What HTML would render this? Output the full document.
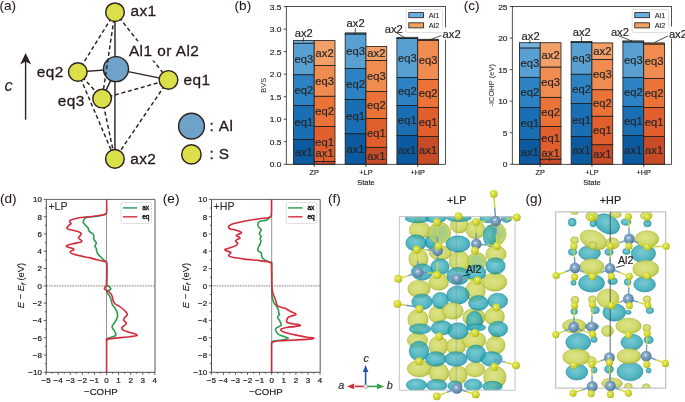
<!DOCTYPE html>
<html><head><meta charset="utf-8"><style>
html,body{margin:0;padding:0;background:#fff;}
svg{display:block;will-change:transform;}
text{font-family:"Liberation Sans",sans-serif;}
</style></head><body>
<svg width="685" height="402" viewBox="0 0 685 402">
<defs>
<radialGradient id="gy" cx="0.45" cy="0.42" r="0.6">
 <stop offset="0" stop-color="#d9e180"/><stop offset="0.65" stop-color="#cdd660"/><stop offset="0.9" stop-color="#bac442"/><stop offset="1" stop-color="#9eaa2e"/>
</radialGradient>
<radialGradient id="gc" cx="0.45" cy="0.42" r="0.6">
 <stop offset="0" stop-color="#58bcc6"/><stop offset="0.6" stop-color="#2ea8b6"/><stop offset="0.9" stop-color="#1896a6"/><stop offset="1" stop-color="#0e8292"/>
</radialGradient>
<radialGradient id="gg" cx="0.5" cy="0.5" r="0.55">
 <stop offset="0" stop-color="#9cc886"/><stop offset="0.55" stop-color="#a8cc78"/><stop offset="0.85" stop-color="#c6d05a"/><stop offset="1" stop-color="#a8b436"/>
</radialGradient>
<radialGradient id="gs" cx="0.4" cy="0.38" r="0.65">
 <stop offset="0" stop-color="#f6f8c8"/><stop offset="0.25" stop-color="#dde24a"/><stop offset="0.8" stop-color="#c8ce24"/><stop offset="1" stop-color="#9aa014"/>
</radialGradient>
<radialGradient id="ga" cx="0.42" cy="0.4" r="0.65">
 <stop offset="0" stop-color="#f4f8fc"/><stop offset="0.22" stop-color="#8fb0cc"/><stop offset="0.75" stop-color="#6088aa"/><stop offset="1" stop-color="#466a88"/>
</radialGradient>
<clipPath id="cf"><rect x="399.3" y="216.6" width="115.8" height="173.6"/></clipPath>
<clipPath id="cg"><rect x="555.7" y="211.9" width="110" height="176.2"/></clipPath>
</defs>
<rect width="685" height="402" fill="#fff"/>
<text x="-0.60" y="10.20" font-size="13.6" fill="#231815" text-anchor="start" stroke="#231815" stroke-width="0.05" >(a)</text>
<text x="234.60" y="10.20" font-size="13.6" fill="#231815" text-anchor="start" stroke="#231815" stroke-width="0.05" >(b)</text>
<text x="463.80" y="10.20" font-size="13.6" fill="#231815" text-anchor="start" stroke="#231815" stroke-width="0.05" >(c)</text>
<text x="-0.10" y="203.00" font-size="13.6" fill="#231815" text-anchor="start" stroke="#231815" stroke-width="0.05" >(d)</text>
<text x="162.80" y="203.00" font-size="13.6" fill="#231815" text-anchor="start" stroke="#231815" stroke-width="0.05" >(e)</text>
<text x="327.90" y="203.00" font-size="13.6" fill="#231815" text-anchor="start" stroke="#231815" stroke-width="0.05" >(f)</text>
<text x="525.40" y="203.00" font-size="13.6" fill="#231815" text-anchor="start" stroke="#231815" stroke-width="0.05" >(g)</text>
<line x1="115.00" y1="12.20" x2="77.80" y2="72.00" stroke="#2e2220" stroke-width="1.45" stroke-dasharray="4,2.7"/>
<line x1="115.00" y1="12.20" x2="168.50" y2="79.90" stroke="#2e2220" stroke-width="1.45" stroke-dasharray="4,2.7"/>
<line x1="77.80" y1="72.00" x2="102.10" y2="98.60" stroke="#2e2220" stroke-width="1.45" stroke-dasharray="4,2.7"/>
<line x1="102.10" y1="98.60" x2="168.50" y2="79.90" stroke="#2e2220" stroke-width="1.45" stroke-dasharray="4,2.7"/>
<line x1="77.80" y1="72.00" x2="114.90" y2="158.90" stroke="#2e2220" stroke-width="1.45" stroke-dasharray="4,2.7"/>
<line x1="102.10" y1="98.60" x2="114.90" y2="158.90" stroke="#2e2220" stroke-width="1.45" stroke-dasharray="4,2.7"/>
<line x1="168.50" y1="79.90" x2="114.90" y2="158.90" stroke="#2e2220" stroke-width="1.45" stroke-dasharray="4,2.7"/>
<line x1="115.00" y1="12.20" x2="114.90" y2="158.90" stroke="#2e2220" stroke-width="1.4"/>
<line x1="77.80" y1="72.00" x2="116.00" y2="69.10" stroke="#2e2220" stroke-width="1.4"/>
<line x1="116.00" y1="69.10" x2="168.50" y2="79.90" stroke="#2e2220" stroke-width="1.4"/>
<line x1="116.00" y1="69.10" x2="102.10" y2="98.60" stroke="#2e2220" stroke-width="1.4"/>
<circle cx="116.00" cy="69.10" r="12.5" fill="#6ea2c8" stroke="#2e2220" stroke-width="1.45"/>
<line x1="115.00" y1="12.20" x2="102.10" y2="98.60" stroke="#2e2220" stroke-width="1.45" stroke-dasharray="4,2.7"/>
<rect x="128.5" y="41.5" width="72" height="19" fill="#fff"/>
<circle cx="115.00" cy="12.20" r="9.3" fill="#d9e04a" stroke="#2e2220" stroke-width="1.45"/>
<circle cx="114.90" cy="158.90" r="9.3" fill="#d9e04a" stroke="#2e2220" stroke-width="1.45"/>
<circle cx="168.50" cy="79.90" r="9.3" fill="#d9e04a" stroke="#2e2220" stroke-width="1.45"/>
<circle cx="77.80" cy="72.00" r="9.3" fill="#d9e04a" stroke="#2e2220" stroke-width="1.45"/>
<circle cx="102.10" cy="98.60" r="9.3" fill="#d9e04a" stroke="#2e2220" stroke-width="1.45"/>
<text x="130.40" y="15.90" font-size="15.4" fill="#231815" text-anchor="start" stroke="#231815" stroke-width="0.28" letter-spacing="0.45">ax1</text>
<text x="128.90" y="56.10" font-size="15.4" fill="#231815" text-anchor="start" stroke="#231815" stroke-width="0.28" letter-spacing="0.45">Al1 or Al2</text>
<text x="36.80" y="77.00" font-size="15.4" fill="#231815" text-anchor="start" stroke="#231815" stroke-width="0.28" letter-spacing="0.45">eq2</text>
<text x="183.50" y="84.60" font-size="15.4" fill="#231815" text-anchor="start" stroke="#231815" stroke-width="0.28" letter-spacing="0.45">eq1</text>
<text x="57.80" y="105.90" font-size="15.4" fill="#231815" text-anchor="start" stroke="#231815" stroke-width="0.28" letter-spacing="0.45">eq3</text>
<text x="130.20" y="163.70" font-size="15.4" fill="#231815" text-anchor="start" stroke="#231815" stroke-width="0.28" letter-spacing="0.45">ax2</text>
<line x1="25.6" y1="119.7" x2="25.6" y2="60" stroke="#2e2220" stroke-width="1.4"/>
<path d="M25.6,53 L31.2,64.5 L25.6,61.5 L20.2,64.5 Z" fill="#2e2220"/>
<text x="4.60" y="90.80" font-size="16.5" fill="#231815" text-anchor="start" font-style="italic">c</text>
<circle cx="191.50" cy="126.20" r="12.9" fill="#6ea2c8" stroke="#2e2220" stroke-width="1.45"/>
<circle cx="191.40" cy="154.40" r="9.7" fill="#d9e04a" stroke="#2e2220" stroke-width="1.45"/>
<text x="209.60" y="130.60" font-size="15.4" fill="#231815" text-anchor="start" stroke="#231815" stroke-width="0.28" >:</text>
<text x="218.80" y="130.60" font-size="15.4" fill="#231815" text-anchor="start" stroke="#231815" stroke-width="0.28" letter-spacing="0.45">Al</text>
<text x="209.60" y="159.00" font-size="15.4" fill="#231815" text-anchor="start" stroke="#231815" stroke-width="0.28" >:</text>
<text x="218.80" y="159.00" font-size="15.4" fill="#231815" text-anchor="start" stroke="#231815" stroke-width="0.28" letter-spacing="0.45">S</text>
<rect x="293.40" y="139.40" width="20.80" height="24.90" fill="#0c5aa0" stroke="#1a1a1a" stroke-width="0.8"/>
<rect x="293.40" y="105.40" width="20.80" height="34.00" fill="#196eb4" stroke="#1a1a1a" stroke-width="0.8"/>
<rect x="293.40" y="74.70" width="20.80" height="30.70" fill="#2d82c3" stroke="#1a1a1a" stroke-width="0.8"/>
<rect x="293.40" y="43.20" width="20.80" height="31.50" fill="#58a0d2" stroke="#1a1a1a" stroke-width="0.8"/>
<rect x="293.40" y="40.60" width="20.80" height="2.60" fill="#76b4e0" stroke="#1a1a1a" stroke-width="0.8"/>
<rect x="314.20" y="161.40" width="20.80" height="2.90" fill="#c84b28" stroke="#1a1a1a" stroke-width="0.8"/>
<rect x="314.20" y="126.50" width="20.80" height="34.90" fill="#e15f2d" stroke="#1a1a1a" stroke-width="0.8"/>
<rect x="314.20" y="96.20" width="20.80" height="30.30" fill="#eb7337" stroke="#1a1a1a" stroke-width="0.8"/>
<rect x="314.20" y="65.40" width="20.80" height="30.80" fill="#f08c50" stroke="#1a1a1a" stroke-width="0.8"/>
<rect x="314.20" y="40.60" width="20.80" height="24.80" fill="#f2a068" stroke="#1a1a1a" stroke-width="0.8"/>
<rect x="345.15" y="133.70" width="20.80" height="30.60" fill="#0c5aa0" stroke="#1a1a1a" stroke-width="0.8"/>
<rect x="345.15" y="99.40" width="20.80" height="34.30" fill="#196eb4" stroke="#1a1a1a" stroke-width="0.8"/>
<rect x="345.15" y="68.40" width="20.80" height="31.00" fill="#2d82c3" stroke="#1a1a1a" stroke-width="0.8"/>
<rect x="345.15" y="34.00" width="20.80" height="34.40" fill="#58a0d2" stroke="#1a1a1a" stroke-width="0.8"/>
<rect x="345.15" y="32.90" width="20.80" height="1.10" fill="#76b4e0" stroke="#1a1a1a" stroke-width="0.8"/>
<rect x="365.95" y="147.30" width="20.80" height="17.00" fill="#c84b28" stroke="#1a1a1a" stroke-width="0.8"/>
<rect x="365.95" y="118.40" width="20.80" height="28.90" fill="#e15f2d" stroke="#1a1a1a" stroke-width="0.8"/>
<rect x="365.95" y="91.60" width="20.80" height="26.80" fill="#eb7337" stroke="#1a1a1a" stroke-width="0.8"/>
<rect x="365.95" y="60.40" width="20.80" height="31.20" fill="#f08c50" stroke="#1a1a1a" stroke-width="0.8"/>
<rect x="365.95" y="46.50" width="20.80" height="13.90" fill="#f2a068" stroke="#1a1a1a" stroke-width="0.8"/>
<rect x="396.90" y="135.60" width="20.80" height="28.70" fill="#0c5aa0" stroke="#1a1a1a" stroke-width="0.8"/>
<rect x="396.90" y="105.50" width="20.80" height="30.10" fill="#196eb4" stroke="#1a1a1a" stroke-width="0.8"/>
<rect x="396.90" y="77.40" width="20.80" height="28.10" fill="#2d82c3" stroke="#1a1a1a" stroke-width="0.8"/>
<rect x="396.90" y="38.40" width="20.80" height="39.00" fill="#58a0d2" stroke="#1a1a1a" stroke-width="0.8"/>
<rect x="396.90" y="37.30" width="20.80" height="1.10" fill="#76b4e0" stroke="#1a1a1a" stroke-width="0.8"/>
<rect x="417.70" y="136.60" width="20.80" height="27.70" fill="#c84b28" stroke="#1a1a1a" stroke-width="0.8"/>
<rect x="417.70" y="107.50" width="20.80" height="29.10" fill="#e15f2d" stroke="#1a1a1a" stroke-width="0.8"/>
<rect x="417.70" y="79.40" width="20.80" height="28.10" fill="#eb7337" stroke="#1a1a1a" stroke-width="0.8"/>
<rect x="417.70" y="40.30" width="20.80" height="39.10" fill="#f08c50" stroke="#1a1a1a" stroke-width="0.8"/>
<rect x="417.70" y="39.30" width="20.80" height="1.00" fill="#f2a068" stroke="#1a1a1a" stroke-width="0.8"/>
<text x="303.80" y="155.75" font-size="11.2" fill="#262626" text-anchor="middle" stroke="#262626" stroke-width="0.18" >ax1</text>
<text x="303.80" y="126.30" font-size="11.2" fill="#262626" text-anchor="middle" stroke="#262626" stroke-width="0.18" >eq1</text>
<text x="303.80" y="93.95" font-size="11.2" fill="#262626" text-anchor="middle" stroke="#262626" stroke-width="0.18" >eq2</text>
<text x="303.80" y="62.85" font-size="11.2" fill="#262626" text-anchor="middle" stroke="#262626" stroke-width="0.18" >eq3</text>
<text x="303.70" y="37.00" font-size="11.2" fill="#262626" text-anchor="middle" stroke="#262626" stroke-width="0.18" >ax2</text>
<text x="324.60" y="157.30" font-size="11.2" fill="#262626" text-anchor="middle" stroke="#262626" stroke-width="0.18" >ax1</text>
<text x="324.60" y="146.00" font-size="11.2" fill="#262626" text-anchor="middle" stroke="#262626" stroke-width="0.18" >eq1</text>
<text x="324.60" y="115.25" font-size="11.2" fill="#262626" text-anchor="middle" stroke="#262626" stroke-width="0.18" >eq2</text>
<text x="324.60" y="84.70" font-size="11.2" fill="#262626" text-anchor="middle" stroke="#262626" stroke-width="0.18" >eq3</text>
<text x="324.60" y="56.90" font-size="11.2" fill="#262626" text-anchor="middle" stroke="#262626" stroke-width="0.18" >ax2</text>
<text x="355.55" y="152.90" font-size="11.2" fill="#262626" text-anchor="middle" stroke="#262626" stroke-width="0.18" >ax1</text>
<text x="355.55" y="120.45" font-size="11.2" fill="#262626" text-anchor="middle" stroke="#262626" stroke-width="0.18" >eq1</text>
<text x="355.55" y="87.80" font-size="11.2" fill="#262626" text-anchor="middle" stroke="#262626" stroke-width="0.18" >eq2</text>
<text x="355.55" y="55.10" font-size="11.2" fill="#262626" text-anchor="middle" stroke="#262626" stroke-width="0.18" >eq3</text>
<text x="355.60" y="27.40" font-size="11.2" fill="#262626" text-anchor="middle" stroke="#262626" stroke-width="0.18" >ax2</text>
<text x="376.35" y="159.70" font-size="11.2" fill="#262626" text-anchor="middle" stroke="#262626" stroke-width="0.18" >ax1</text>
<text x="376.35" y="136.75" font-size="11.2" fill="#262626" text-anchor="middle" stroke="#262626" stroke-width="0.18" >eq1</text>
<text x="376.35" y="108.90" font-size="11.2" fill="#262626" text-anchor="middle" stroke="#262626" stroke-width="0.18" >eq2</text>
<text x="376.35" y="79.90" font-size="11.2" fill="#262626" text-anchor="middle" stroke="#262626" stroke-width="0.18" >eq3</text>
<text x="376.35" y="57.35" font-size="11.2" fill="#262626" text-anchor="middle" stroke="#262626" stroke-width="0.18" >ax2</text>
<text x="407.30" y="153.85" font-size="11.2" fill="#262626" text-anchor="middle" stroke="#262626" stroke-width="0.18" >ax1</text>
<text x="407.30" y="124.45" font-size="11.2" fill="#262626" text-anchor="middle" stroke="#262626" stroke-width="0.18" >eq1</text>
<text x="407.30" y="95.35" font-size="11.2" fill="#262626" text-anchor="middle" stroke="#262626" stroke-width="0.18" >eq2</text>
<text x="407.30" y="61.80" font-size="11.2" fill="#262626" text-anchor="middle" stroke="#262626" stroke-width="0.18" >eq3</text>
<text x="428.10" y="154.35" font-size="11.2" fill="#262626" text-anchor="middle" stroke="#262626" stroke-width="0.18" >ax1</text>
<text x="428.10" y="125.95" font-size="11.2" fill="#262626" text-anchor="middle" stroke="#262626" stroke-width="0.18" >eq1</text>
<text x="428.10" y="97.35" font-size="11.2" fill="#262626" text-anchor="middle" stroke="#262626" stroke-width="0.18" >eq2</text>
<text x="428.10" y="63.75" font-size="11.2" fill="#262626" text-anchor="middle" stroke="#262626" stroke-width="0.18" >eq3</text>
<rect x="286.3" y="6.5" width="159.30" height="157.80" fill="none" stroke="#262626" stroke-width="0.8"/>
<line x1="283.70" y1="164.30" x2="286.3" y2="164.30" stroke="#262626" stroke-width="0.8"/>
<text transform="translate(281.50,167.30) scale(1.12,1)" font-size="7.5" fill="#1e1e1e" stroke="#1e1e1e" stroke-width="0.15" text-anchor="end">0.0</text>
<line x1="283.70" y1="141.77" x2="286.3" y2="141.77" stroke="#262626" stroke-width="0.8"/>
<text transform="translate(281.50,144.77) scale(1.12,1)" font-size="7.5" fill="#1e1e1e" stroke="#1e1e1e" stroke-width="0.15" text-anchor="end">0.5</text>
<line x1="283.70" y1="119.24" x2="286.3" y2="119.24" stroke="#262626" stroke-width="0.8"/>
<text transform="translate(281.50,122.24) scale(1.12,1)" font-size="7.5" fill="#1e1e1e" stroke="#1e1e1e" stroke-width="0.15" text-anchor="end">1.0</text>
<line x1="283.70" y1="96.71" x2="286.3" y2="96.71" stroke="#262626" stroke-width="0.8"/>
<text transform="translate(281.50,99.71) scale(1.12,1)" font-size="7.5" fill="#1e1e1e" stroke="#1e1e1e" stroke-width="0.15" text-anchor="end">1.5</text>
<line x1="283.70" y1="74.18" x2="286.3" y2="74.18" stroke="#262626" stroke-width="0.8"/>
<text transform="translate(281.50,77.18) scale(1.12,1)" font-size="7.5" fill="#1e1e1e" stroke="#1e1e1e" stroke-width="0.15" text-anchor="end">2.0</text>
<line x1="283.70" y1="51.65" x2="286.3" y2="51.65" stroke="#262626" stroke-width="0.8"/>
<text transform="translate(281.50,54.65) scale(1.12,1)" font-size="7.5" fill="#1e1e1e" stroke="#1e1e1e" stroke-width="0.15" text-anchor="end">2.5</text>
<line x1="283.70" y1="29.12" x2="286.3" y2="29.12" stroke="#262626" stroke-width="0.8"/>
<text transform="translate(281.50,32.12) scale(1.12,1)" font-size="7.5" fill="#1e1e1e" stroke="#1e1e1e" stroke-width="0.15" text-anchor="end">3.0</text>
<line x1="283.70" y1="6.59" x2="286.3" y2="6.59" stroke="#262626" stroke-width="0.8"/>
<text transform="translate(281.50,9.59) scale(1.12,1)" font-size="7.5" fill="#1e1e1e" stroke="#1e1e1e" stroke-width="0.15" text-anchor="end">3.5</text>
<line x1="314.20" y1="164.3" x2="314.20" y2="166.90" stroke="#262626" stroke-width="0.8"/>
<text x="314.20" y="175.10" font-size="7.3" fill="#1e1e1e" text-anchor="middle" stroke="#1e1e1e" stroke-width="0.15" >ZP</text>
<line x1="365.95" y1="164.3" x2="365.95" y2="166.90" stroke="#262626" stroke-width="0.8"/>
<text x="365.95" y="175.10" font-size="7.3" fill="#1e1e1e" text-anchor="middle" stroke="#1e1e1e" stroke-width="0.15" >+LP</text>
<line x1="417.70" y1="164.3" x2="417.70" y2="166.90" stroke="#262626" stroke-width="0.8"/>
<text x="417.70" y="175.10" font-size="7.3" fill="#1e1e1e" text-anchor="middle" stroke="#1e1e1e" stroke-width="0.15" >+HP</text>
<text x="366.00" y="184.80" font-size="7.5" fill="#1e1e1e" text-anchor="middle" stroke="#1e1e1e" stroke-width="0.15" >State</text>
<text x="0" y="0" font-size="7.5" fill="#262626" text-anchor="middle" transform="translate(266.20,85.3) rotate(-90)">BVS</text>
<rect x="406.20" y="9.5" width="36.3" height="23" rx="1.5" fill="#fff" fill-opacity="0.85" stroke="#d8d8d8" stroke-width="0.8"/>
<rect x="408.80" y="12.6" width="14.8" height="5.1" fill="#6aaedc" stroke="#1a1a1a" stroke-width="0.8"/>
<rect x="408.80" y="22.8" width="14.8" height="5.1" fill="#f0a060" stroke="#1a1a1a" stroke-width="0.8"/>
<text x="428.70" y="17.80" font-size="7.3" fill="#262626" text-anchor="start" stroke="#262626" stroke-width="0.1" >Al1</text>
<text x="428.70" y="28.00" font-size="7.3" fill="#262626" text-anchor="start" stroke="#262626" stroke-width="0.1" >Al2</text>
<rect x="519.40" y="139.50" width="20.80" height="24.80" fill="#0c5aa0" stroke="#1a1a1a" stroke-width="0.8"/>
<rect x="519.40" y="107.40" width="20.80" height="32.10" fill="#196eb4" stroke="#1a1a1a" stroke-width="0.8"/>
<rect x="519.40" y="77.30" width="20.80" height="30.10" fill="#2d82c3" stroke="#1a1a1a" stroke-width="0.8"/>
<rect x="519.40" y="47.90" width="20.80" height="29.40" fill="#58a0d2" stroke="#1a1a1a" stroke-width="0.8"/>
<rect x="519.40" y="42.70" width="20.80" height="5.20" fill="#76b4e0" stroke="#1a1a1a" stroke-width="0.8"/>
<rect x="540.20" y="159.00" width="20.80" height="5.30" fill="#c84b28" stroke="#1a1a1a" stroke-width="0.8"/>
<rect x="540.20" y="126.50" width="20.80" height="32.50" fill="#e15f2d" stroke="#1a1a1a" stroke-width="0.8"/>
<rect x="540.20" y="97.30" width="20.80" height="29.20" fill="#eb7337" stroke="#1a1a1a" stroke-width="0.8"/>
<rect x="540.20" y="67.00" width="20.80" height="30.30" fill="#f08c50" stroke="#1a1a1a" stroke-width="0.8"/>
<rect x="540.20" y="42.70" width="20.80" height="24.30" fill="#f2a068" stroke="#1a1a1a" stroke-width="0.8"/>
<rect x="571.15" y="136.60" width="20.80" height="27.70" fill="#0c5aa0" stroke="#1a1a1a" stroke-width="0.8"/>
<rect x="571.15" y="103.60" width="20.80" height="33.00" fill="#196eb4" stroke="#1a1a1a" stroke-width="0.8"/>
<rect x="571.15" y="74.20" width="20.80" height="29.40" fill="#2d82c3" stroke="#1a1a1a" stroke-width="0.8"/>
<rect x="571.15" y="42.60" width="20.80" height="31.60" fill="#58a0d2" stroke="#1a1a1a" stroke-width="0.8"/>
<rect x="571.15" y="41.50" width="20.80" height="1.10" fill="#76b4e0" stroke="#1a1a1a" stroke-width="0.8"/>
<rect x="591.95" y="144.70" width="20.80" height="19.60" fill="#c84b28" stroke="#1a1a1a" stroke-width="0.8"/>
<rect x="591.95" y="116.20" width="20.80" height="28.50" fill="#e15f2d" stroke="#1a1a1a" stroke-width="0.8"/>
<rect x="591.95" y="89.70" width="20.80" height="26.50" fill="#eb7337" stroke="#1a1a1a" stroke-width="0.8"/>
<rect x="591.95" y="59.40" width="20.80" height="30.30" fill="#f08c50" stroke="#1a1a1a" stroke-width="0.8"/>
<rect x="591.95" y="42.90" width="20.80" height="16.50" fill="#f2a068" stroke="#1a1a1a" stroke-width="0.8"/>
<rect x="622.90" y="135.60" width="20.80" height="28.70" fill="#0c5aa0" stroke="#1a1a1a" stroke-width="0.8"/>
<rect x="622.90" y="106.50" width="20.80" height="29.10" fill="#196eb4" stroke="#1a1a1a" stroke-width="0.8"/>
<rect x="622.90" y="77.40" width="20.80" height="29.10" fill="#2d82c3" stroke="#1a1a1a" stroke-width="0.8"/>
<rect x="622.90" y="42.00" width="20.80" height="35.40" fill="#58a0d2" stroke="#1a1a1a" stroke-width="0.8"/>
<rect x="622.90" y="40.90" width="20.80" height="1.10" fill="#76b4e0" stroke="#1a1a1a" stroke-width="0.8"/>
<rect x="643.70" y="136.60" width="20.80" height="27.70" fill="#c84b28" stroke="#1a1a1a" stroke-width="0.8"/>
<rect x="643.70" y="107.50" width="20.80" height="29.10" fill="#e15f2d" stroke="#1a1a1a" stroke-width="0.8"/>
<rect x="643.70" y="78.40" width="20.80" height="29.10" fill="#eb7337" stroke="#1a1a1a" stroke-width="0.8"/>
<rect x="643.70" y="44.00" width="20.80" height="34.40" fill="#f08c50" stroke="#1a1a1a" stroke-width="0.8"/>
<rect x="643.70" y="42.90" width="20.80" height="1.10" fill="#f2a068" stroke="#1a1a1a" stroke-width="0.8"/>
<text x="529.80" y="155.80" font-size="11.2" fill="#262626" text-anchor="middle" stroke="#262626" stroke-width="0.18" >ax1</text>
<text x="529.80" y="127.35" font-size="11.2" fill="#262626" text-anchor="middle" stroke="#262626" stroke-width="0.18" >eq1</text>
<text x="529.80" y="96.25" font-size="11.2" fill="#262626" text-anchor="middle" stroke="#262626" stroke-width="0.18" >eq2</text>
<text x="529.80" y="66.50" font-size="11.2" fill="#262626" text-anchor="middle" stroke="#262626" stroke-width="0.18" >eq3</text>
<text x="530.60" y="39.90" font-size="11.2" fill="#262626" text-anchor="middle" stroke="#262626" stroke-width="0.18" >ax2</text>
<text x="550.60" y="156.60" font-size="11.2" fill="#262626" text-anchor="middle" stroke="#262626" stroke-width="0.18" >ax1</text>
<text x="550.60" y="141.80" font-size="11.2" fill="#262626" text-anchor="middle" stroke="#262626" stroke-width="0.18" >eq1</text>
<text x="550.60" y="115.80" font-size="11.2" fill="#262626" text-anchor="middle" stroke="#262626" stroke-width="0.18" >eq2</text>
<text x="550.60" y="86.05" font-size="11.2" fill="#262626" text-anchor="middle" stroke="#262626" stroke-width="0.18" >eq3</text>
<text x="550.60" y="58.75" font-size="11.2" fill="#262626" text-anchor="middle" stroke="#262626" stroke-width="0.18" >ax2</text>
<text x="581.55" y="154.35" font-size="11.2" fill="#262626" text-anchor="middle" stroke="#262626" stroke-width="0.18" >ax1</text>
<text x="581.55" y="124.00" font-size="11.2" fill="#262626" text-anchor="middle" stroke="#262626" stroke-width="0.18" >eq1</text>
<text x="581.55" y="92.80" font-size="11.2" fill="#262626" text-anchor="middle" stroke="#262626" stroke-width="0.18" >eq2</text>
<text x="581.55" y="62.30" font-size="11.2" fill="#262626" text-anchor="middle" stroke="#262626" stroke-width="0.18" >eq3</text>
<text x="581.80" y="36.30" font-size="11.2" fill="#262626" text-anchor="middle" stroke="#262626" stroke-width="0.18" >ax2</text>
<text x="602.35" y="158.40" font-size="11.2" fill="#262626" text-anchor="middle" stroke="#262626" stroke-width="0.18" >ax1</text>
<text x="602.35" y="134.35" font-size="11.2" fill="#262626" text-anchor="middle" stroke="#262626" stroke-width="0.18" >eq1</text>
<text x="602.35" y="106.85" font-size="11.2" fill="#262626" text-anchor="middle" stroke="#262626" stroke-width="0.18" >eq2</text>
<text x="602.35" y="78.45" font-size="11.2" fill="#262626" text-anchor="middle" stroke="#262626" stroke-width="0.18" >eq3</text>
<text x="602.35" y="55.05" font-size="11.2" fill="#262626" text-anchor="middle" stroke="#262626" stroke-width="0.18" >ax2</text>
<text x="633.30" y="153.85" font-size="11.2" fill="#262626" text-anchor="middle" stroke="#262626" stroke-width="0.18" >ax1</text>
<text x="633.30" y="124.95" font-size="11.2" fill="#262626" text-anchor="middle" stroke="#262626" stroke-width="0.18" >eq1</text>
<text x="633.30" y="95.85" font-size="11.2" fill="#262626" text-anchor="middle" stroke="#262626" stroke-width="0.18" >eq2</text>
<text x="633.30" y="63.60" font-size="11.2" fill="#262626" text-anchor="middle" stroke="#262626" stroke-width="0.18" >eq3</text>
<text x="654.10" y="154.35" font-size="11.2" fill="#262626" text-anchor="middle" stroke="#262626" stroke-width="0.18" >ax1</text>
<text x="654.10" y="125.95" font-size="11.2" fill="#262626" text-anchor="middle" stroke="#262626" stroke-width="0.18" >eq1</text>
<text x="654.10" y="96.85" font-size="11.2" fill="#262626" text-anchor="middle" stroke="#262626" stroke-width="0.18" >eq2</text>
<text x="654.10" y="65.10" font-size="11.2" fill="#262626" text-anchor="middle" stroke="#262626" stroke-width="0.18" >eq3</text>
<rect x="512.3" y="6.5" width="159.30" height="157.80" fill="none" stroke="#262626" stroke-width="0.8"/>
<line x1="509.70" y1="164.30" x2="512.3" y2="164.30" stroke="#262626" stroke-width="0.8"/>
<text transform="translate(507.50,167.30) scale(1.12,1)" font-size="7.5" fill="#1e1e1e" stroke="#1e1e1e" stroke-width="0.15" text-anchor="end">0</text>
<line x1="509.70" y1="132.74" x2="512.3" y2="132.74" stroke="#262626" stroke-width="0.8"/>
<text transform="translate(507.50,135.74) scale(1.12,1)" font-size="7.5" fill="#1e1e1e" stroke="#1e1e1e" stroke-width="0.15" text-anchor="end">5</text>
<line x1="509.70" y1="101.18" x2="512.3" y2="101.18" stroke="#262626" stroke-width="0.8"/>
<text transform="translate(507.50,104.18) scale(1.12,1)" font-size="7.5" fill="#1e1e1e" stroke="#1e1e1e" stroke-width="0.15" text-anchor="end">10</text>
<line x1="509.70" y1="69.62" x2="512.3" y2="69.62" stroke="#262626" stroke-width="0.8"/>
<text transform="translate(507.50,72.62) scale(1.12,1)" font-size="7.5" fill="#1e1e1e" stroke="#1e1e1e" stroke-width="0.15" text-anchor="end">15</text>
<line x1="509.70" y1="38.06" x2="512.3" y2="38.06" stroke="#262626" stroke-width="0.8"/>
<text transform="translate(507.50,41.06) scale(1.12,1)" font-size="7.5" fill="#1e1e1e" stroke="#1e1e1e" stroke-width="0.15" text-anchor="end">20</text>
<line x1="509.70" y1="6.50" x2="512.3" y2="6.50" stroke="#262626" stroke-width="0.8"/>
<text transform="translate(507.50,9.50) scale(1.12,1)" font-size="7.5" fill="#1e1e1e" stroke="#1e1e1e" stroke-width="0.15" text-anchor="end">25</text>
<line x1="540.20" y1="164.3" x2="540.20" y2="166.90" stroke="#262626" stroke-width="0.8"/>
<text x="540.20" y="175.10" font-size="7.3" fill="#1e1e1e" text-anchor="middle" stroke="#1e1e1e" stroke-width="0.15" >ZP</text>
<line x1="591.95" y1="164.3" x2="591.95" y2="166.90" stroke="#262626" stroke-width="0.8"/>
<text x="591.95" y="175.10" font-size="7.3" fill="#1e1e1e" text-anchor="middle" stroke="#1e1e1e" stroke-width="0.15" >+LP</text>
<line x1="643.70" y1="164.3" x2="643.70" y2="166.90" stroke="#262626" stroke-width="0.8"/>
<text x="643.70" y="175.10" font-size="7.3" fill="#1e1e1e" text-anchor="middle" stroke="#1e1e1e" stroke-width="0.15" >+HP</text>
<text x="592.00" y="184.80" font-size="7.5" fill="#1e1e1e" text-anchor="middle" stroke="#1e1e1e" stroke-width="0.15" >State</text>
<text x="0" y="0" font-size="7.5" fill="#262626" text-anchor="middle" transform="translate(493.60,85.3) rotate(-90)">-ICOHP (eV)</text>
<rect x="632.20" y="9.5" width="36.3" height="23" rx="1.5" fill="#fff" fill-opacity="0.85" stroke="#d8d8d8" stroke-width="0.8"/>
<rect x="634.80" y="12.6" width="14.8" height="5.1" fill="#6aaedc" stroke="#1a1a1a" stroke-width="0.8"/>
<rect x="634.80" y="22.8" width="14.8" height="5.1" fill="#f0a060" stroke="#1a1a1a" stroke-width="0.8"/>
<text x="654.70" y="17.80" font-size="7.3" fill="#262626" text-anchor="start" stroke="#262626" stroke-width="0.1" >Al1</text>
<text x="654.70" y="28.00" font-size="7.3" fill="#262626" text-anchor="start" stroke="#262626" stroke-width="0.1" >Al2</text>
<line x1="303.60" y1="37.60" x2="303.20" y2="41.80" stroke="#262626" stroke-width="0.8"/>
<line x1="323.90" y1="157.40" x2="323.30" y2="162.60" stroke="#262626" stroke-width="0.8"/>
<line x1="355.40" y1="28.20" x2="355.10" y2="33.60" stroke="#262626" stroke-width="0.8"/>
<line x1="396.00" y1="32.50" x2="404.80" y2="37.60" stroke="#262626" stroke-width="0.8"/>
<line x1="441.60" y1="35.40" x2="429.90" y2="39.80" stroke="#262626" stroke-width="0.8"/>
<text x="393.70" y="32.70" font-size="11.2" fill="#262626" text-anchor="middle" stroke="#262626" stroke-width="0.18" >ax2</text>
<rect x="441.8" y="27.5" width="8" height="12" fill="#fff"/>
<text x="442.60" y="38.20" font-size="11.2" fill="#262626" text-anchor="start" stroke="#262626" stroke-width="0.18" >ax2</text>
<line x1="530.00" y1="40.20" x2="529.60" y2="43.60" stroke="#262626" stroke-width="0.8"/>
<line x1="549.90" y1="157.00" x2="549.40" y2="161.20" stroke="#262626" stroke-width="0.8"/>
<line x1="581.60" y1="36.40" x2="581.50" y2="41.80" stroke="#262626" stroke-width="0.8"/>
<line x1="618.60" y1="35.80" x2="632.30" y2="41.20" stroke="#262626" stroke-width="0.8"/>
<line x1="668.90" y1="35.50" x2="654.60" y2="42.40" stroke="#262626" stroke-width="0.8"/>
<text x="619.90" y="36.30" font-size="11.2" fill="#262626" text-anchor="middle" stroke="#262626" stroke-width="0.18" >ax2</text>
<rect x="668" y="26.5" width="8" height="12" fill="#fff"/>
<text x="668.90" y="37.50" font-size="11.2" fill="#262626" text-anchor="start" stroke="#262626" stroke-width="0.18" >ax2</text>
<line x1="106.50" y1="199.4" x2="106.50" y2="372.3" stroke="#8a8a8a" stroke-width="0.9"/>
<line x1="46.3" y1="285.85" x2="155.0" y2="285.85" stroke="#9c9c9c" stroke-width="1.1" stroke-dasharray="1.7,0.9"/>
<path d="M106.60,213.50 C105.77,213.79 101.89,215.39 100.00,215.80 C98.11,216.21 93.08,216.64 91.50,216.80 C89.92,216.96 88.25,216.89 87.40,217.10 C86.55,217.31 85.18,218.10 84.70,218.50 C84.22,218.90 83.77,219.83 83.60,220.30 C83.42,220.78 83.16,221.79 83.30,222.30 C83.44,222.81 84.28,223.89 84.70,224.40 C85.12,224.91 86.28,225.97 86.70,226.40 C87.12,226.83 87.84,227.29 88.10,227.80 C88.36,228.31 88.46,229.90 88.80,230.50 C89.14,231.10 90.29,232.16 90.80,232.60 C91.31,233.04 92.50,233.57 92.90,234.00 C93.30,234.43 93.91,235.40 94.00,236.00 C94.09,236.60 93.49,238.20 93.60,238.80 C93.71,239.40 94.56,240.29 94.90,240.80 C95.24,241.31 96.30,242.21 96.30,242.90 C96.30,243.59 94.90,245.61 94.90,246.30 C94.90,246.99 96.08,247.80 96.30,248.40 C96.52,249.00 96.53,250.42 96.70,251.10 C96.88,251.78 97.15,253.03 97.70,253.80 C98.25,254.58 100.07,256.26 101.10,257.30 C102.12,258.34 105.21,261.33 105.90,262.10 C106.59,262.88 106.51,260.70 106.60,263.50 C106.69,266.30 106.54,281.81 106.60,284.50 C106.66,287.19 106.81,284.75 107.10,285.00 C107.39,285.25 108.43,286.05 108.90,286.50 C109.38,286.95 110.80,288.16 110.90,288.60 C111.00,289.04 110.06,289.75 109.70,290.00 C109.34,290.25 108.33,290.41 108.00,290.60 C107.67,290.79 107.14,291.16 107.10,291.50 C107.06,291.84 107.45,292.85 107.70,293.30 C107.95,293.75 108.77,294.58 109.10,295.10 C109.42,295.62 110.04,296.89 110.30,297.50 C110.56,298.11 110.94,299.11 111.20,300.00 C111.46,300.89 111.93,303.59 112.40,304.60 C112.88,305.61 114.45,307.23 115.00,308.10 C115.55,308.98 116.47,310.73 116.80,311.60 C117.12,312.48 117.60,314.23 117.60,315.10 C117.60,315.98 117.12,317.74 116.80,318.60 C116.47,319.46 115.55,321.14 115.00,322.00 C114.45,322.86 112.73,324.74 112.40,325.50 C112.08,326.26 112.18,327.45 112.40,328.10 C112.62,328.75 113.76,329.94 114.20,330.70 C114.64,331.46 115.80,333.54 115.90,334.20 C116.00,334.86 115.65,335.60 115.00,336.00 C114.35,336.40 111.67,337.07 110.70,337.40 C109.73,337.72 107.71,338.30 107.20,338.60 C106.69,338.90 106.67,339.50 106.60,339.80 C106.52,340.10 106.60,340.85 106.60,341.00" fill="none" stroke="#2e9a50" stroke-width="1.6" stroke-linejoin="round"/>
<path d="M106.60,199.40 C106.60,201.06 106.95,210.77 106.60,212.70 C106.25,214.62 105.35,214.36 103.80,214.80 C102.25,215.24 97.11,215.86 94.20,216.20 C91.29,216.54 83.24,217.07 80.50,217.50 C77.76,217.93 73.66,219.16 72.30,219.60 C70.94,220.04 69.85,220.62 69.60,221.00 C69.35,221.38 70.12,222.26 70.30,222.60 C70.47,222.94 71.17,223.36 71.00,223.70 C70.83,224.04 69.43,224.79 68.90,225.30 C68.38,225.81 66.89,227.31 66.80,227.80 C66.71,228.29 67.34,228.86 68.20,229.20 C69.06,229.54 72.33,230.16 73.70,230.50 C75.08,230.84 78.26,231.51 79.20,231.90 C80.14,232.29 81.04,233.17 81.20,233.60 C81.36,234.03 80.84,234.83 80.50,235.30 C80.16,235.78 78.66,236.96 78.50,237.40 C78.34,237.84 78.78,238.38 79.20,238.80 C79.62,239.23 81.74,240.38 81.90,240.80 C82.06,241.23 81.53,241.85 80.50,242.20 C79.47,242.55 75.24,243.26 73.70,243.60 C72.16,243.94 69.14,244.56 68.20,244.90 C67.26,245.24 66.20,246.00 66.20,246.30 C66.20,246.60 67.35,247.04 68.20,247.30 C69.05,247.56 72.31,248.10 73.00,248.40 C73.69,248.70 73.95,249.36 73.70,249.70 C73.45,250.04 71.42,250.75 71.00,251.10 C70.58,251.45 70.14,252.16 70.30,252.50 C70.46,252.84 71.02,253.38 72.30,253.80 C73.58,254.23 78.28,255.39 80.50,255.90 C82.72,256.41 87.86,257.39 90.10,257.90 C92.34,258.41 96.69,259.56 98.40,260.00 C100.11,260.44 102.78,261.06 103.80,261.40 C104.82,261.74 106.25,259.80 106.60,262.70 C106.95,265.60 106.72,281.62 106.60,284.60 C106.47,287.58 105.88,286.07 105.60,286.50 C105.32,286.93 104.51,287.68 104.40,288.00 C104.29,288.32 104.44,288.81 104.70,289.10 C104.96,289.39 106.01,290.00 106.50,290.30 C106.99,290.60 108.05,291.05 108.60,291.50 C109.15,291.95 110.43,293.22 110.90,293.90 C111.38,294.57 112.14,296.14 112.40,296.90 C112.66,297.66 112.67,299.15 113.00,300.00 C113.33,300.85 114.20,302.90 115.00,303.70 C115.80,304.50 118.41,305.74 119.40,306.40 C120.39,307.06 122.03,308.24 122.90,309.00 C123.78,309.76 125.86,311.74 126.40,312.50 C126.94,313.26 127.43,314.45 127.20,315.10 C126.97,315.75 125.04,317.05 124.60,317.70 C124.16,318.35 123.47,319.65 123.70,320.30 C123.93,320.95 126.29,322.25 126.40,322.90 C126.51,323.55 125.15,324.95 124.60,325.50 C124.05,326.05 122.21,326.75 122.00,327.30 C121.79,327.85 121.93,329.25 122.90,329.90 C123.88,330.55 128.18,331.96 129.80,332.50 C131.43,333.04 135.03,333.81 135.90,334.20 C136.78,334.59 137.56,335.28 136.80,335.60 C136.04,335.93 132.41,336.49 129.80,336.80 C127.19,337.11 118.51,337.84 115.90,338.10 C113.29,338.36 110.04,338.69 108.90,338.90 C107.76,339.11 107.09,339.54 106.80,339.80 C106.51,340.06 106.62,336.94 106.60,341.00 C106.57,345.06 106.60,368.39 106.60,372.30" fill="none" stroke="#d42a3c" stroke-width="1.6" stroke-linejoin="round"/>
<line x1="46.3" y1="199.4" x2="155.0" y2="199.4" stroke="#555" stroke-width="0.9"/>
<line x1="155.0" y1="199.4" x2="155.0" y2="372.3" stroke="#666" stroke-width="1.1"/>
<line x1="46.3" y1="199.4" x2="46.3" y2="372.3" stroke="#3a3a3a" stroke-width="0.9"/>
<line x1="46.3" y1="372.3" x2="155.0" y2="372.3" stroke="#3a3a3a" stroke-width="0.9"/>
<line x1="43.70" y1="372.30" x2="46.3" y2="372.30" stroke="#3a3a3a" stroke-width="0.8"/>
<text x="41.90" y="375.20" font-size="8.0" fill="#1c1c1c" text-anchor="end" stroke="#1c1c1c" stroke-width="0.22" >−10</text>
<line x1="44.80" y1="363.66" x2="46.3" y2="363.66" stroke="#3a3a3a" stroke-width="0.8"/>
<line x1="43.70" y1="355.01" x2="46.3" y2="355.01" stroke="#3a3a3a" stroke-width="0.8"/>
<text x="41.90" y="357.91" font-size="8.0" fill="#1c1c1c" text-anchor="end" stroke="#1c1c1c" stroke-width="0.22" >−8</text>
<line x1="44.80" y1="346.37" x2="46.3" y2="346.37" stroke="#3a3a3a" stroke-width="0.8"/>
<line x1="43.70" y1="337.72" x2="46.3" y2="337.72" stroke="#3a3a3a" stroke-width="0.8"/>
<text x="41.90" y="340.62" font-size="8.0" fill="#1c1c1c" text-anchor="end" stroke="#1c1c1c" stroke-width="0.22" >−6</text>
<line x1="44.80" y1="329.08" x2="46.3" y2="329.08" stroke="#3a3a3a" stroke-width="0.8"/>
<line x1="43.70" y1="320.43" x2="46.3" y2="320.43" stroke="#3a3a3a" stroke-width="0.8"/>
<text x="41.90" y="323.33" font-size="8.0" fill="#1c1c1c" text-anchor="end" stroke="#1c1c1c" stroke-width="0.22" >−4</text>
<line x1="44.80" y1="311.79" x2="46.3" y2="311.79" stroke="#3a3a3a" stroke-width="0.8"/>
<line x1="43.70" y1="303.14" x2="46.3" y2="303.14" stroke="#3a3a3a" stroke-width="0.8"/>
<text x="41.90" y="306.04" font-size="8.0" fill="#1c1c1c" text-anchor="end" stroke="#1c1c1c" stroke-width="0.22" >−2</text>
<line x1="44.80" y1="294.50" x2="46.3" y2="294.50" stroke="#3a3a3a" stroke-width="0.8"/>
<line x1="43.70" y1="285.85" x2="46.3" y2="285.85" stroke="#3a3a3a" stroke-width="0.8"/>
<text x="41.90" y="288.75" font-size="8.0" fill="#1c1c1c" text-anchor="end" stroke="#1c1c1c" stroke-width="0.22" >0</text>
<line x1="44.80" y1="277.21" x2="46.3" y2="277.21" stroke="#3a3a3a" stroke-width="0.8"/>
<line x1="43.70" y1="268.56" x2="46.3" y2="268.56" stroke="#3a3a3a" stroke-width="0.8"/>
<text x="41.90" y="271.46" font-size="8.0" fill="#1c1c1c" text-anchor="end" stroke="#1c1c1c" stroke-width="0.22" >2</text>
<line x1="44.80" y1="259.92" x2="46.3" y2="259.92" stroke="#3a3a3a" stroke-width="0.8"/>
<line x1="43.70" y1="251.27" x2="46.3" y2="251.27" stroke="#3a3a3a" stroke-width="0.8"/>
<text x="41.90" y="254.17" font-size="8.0" fill="#1c1c1c" text-anchor="end" stroke="#1c1c1c" stroke-width="0.22" >4</text>
<line x1="44.80" y1="242.63" x2="46.3" y2="242.63" stroke="#3a3a3a" stroke-width="0.8"/>
<line x1="43.70" y1="233.98" x2="46.3" y2="233.98" stroke="#3a3a3a" stroke-width="0.8"/>
<text x="41.90" y="236.88" font-size="8.0" fill="#1c1c1c" text-anchor="end" stroke="#1c1c1c" stroke-width="0.22" >6</text>
<line x1="44.80" y1="225.34" x2="46.3" y2="225.34" stroke="#3a3a3a" stroke-width="0.8"/>
<line x1="43.70" y1="216.69" x2="46.3" y2="216.69" stroke="#3a3a3a" stroke-width="0.8"/>
<text x="41.90" y="219.59" font-size="8.0" fill="#1c1c1c" text-anchor="end" stroke="#1c1c1c" stroke-width="0.22" >8</text>
<line x1="44.80" y1="208.05" x2="46.3" y2="208.05" stroke="#3a3a3a" stroke-width="0.8"/>
<line x1="43.70" y1="199.40" x2="46.3" y2="199.40" stroke="#3a3a3a" stroke-width="0.8"/>
<text x="41.90" y="202.30" font-size="8.0" fill="#1c1c1c" text-anchor="end" stroke="#1c1c1c" stroke-width="0.22" >10</text>
<line x1="46.10" y1="372.3" x2="46.10" y2="374.90" stroke="#3a3a3a" stroke-width="0.8"/>
<text x="46.10" y="383.20" font-size="8.0" fill="#1c1c1c" text-anchor="middle" stroke="#1c1c1c" stroke-width="0.22" >−5</text>
<line x1="52.14" y1="372.3" x2="52.14" y2="373.80" stroke="#3a3a3a" stroke-width="0.8"/>
<line x1="58.18" y1="372.3" x2="58.18" y2="374.90" stroke="#3a3a3a" stroke-width="0.8"/>
<text x="58.18" y="383.20" font-size="8.0" fill="#1c1c1c" text-anchor="middle" stroke="#1c1c1c" stroke-width="0.22" >−4</text>
<line x1="64.22" y1="372.3" x2="64.22" y2="373.80" stroke="#3a3a3a" stroke-width="0.8"/>
<line x1="70.26" y1="372.3" x2="70.26" y2="374.90" stroke="#3a3a3a" stroke-width="0.8"/>
<text x="70.26" y="383.20" font-size="8.0" fill="#1c1c1c" text-anchor="middle" stroke="#1c1c1c" stroke-width="0.22" >−3</text>
<line x1="76.30" y1="372.3" x2="76.30" y2="373.80" stroke="#3a3a3a" stroke-width="0.8"/>
<line x1="82.34" y1="372.3" x2="82.34" y2="374.90" stroke="#3a3a3a" stroke-width="0.8"/>
<text x="82.34" y="383.20" font-size="8.0" fill="#1c1c1c" text-anchor="middle" stroke="#1c1c1c" stroke-width="0.22" >−2</text>
<line x1="88.38" y1="372.3" x2="88.38" y2="373.80" stroke="#3a3a3a" stroke-width="0.8"/>
<line x1="94.42" y1="372.3" x2="94.42" y2="374.90" stroke="#3a3a3a" stroke-width="0.8"/>
<text x="94.42" y="383.20" font-size="8.0" fill="#1c1c1c" text-anchor="middle" stroke="#1c1c1c" stroke-width="0.22" >−1</text>
<line x1="100.46" y1="372.3" x2="100.46" y2="373.80" stroke="#3a3a3a" stroke-width="0.8"/>
<line x1="106.50" y1="372.3" x2="106.50" y2="374.90" stroke="#3a3a3a" stroke-width="0.8"/>
<text x="106.50" y="383.20" font-size="8.0" fill="#1c1c1c" text-anchor="middle" stroke="#1c1c1c" stroke-width="0.22" >0</text>
<line x1="112.54" y1="372.3" x2="112.54" y2="373.80" stroke="#3a3a3a" stroke-width="0.8"/>
<line x1="118.58" y1="372.3" x2="118.58" y2="374.90" stroke="#3a3a3a" stroke-width="0.8"/>
<text x="118.58" y="383.20" font-size="8.0" fill="#1c1c1c" text-anchor="middle" stroke="#1c1c1c" stroke-width="0.22" >1</text>
<line x1="124.62" y1="372.3" x2="124.62" y2="373.80" stroke="#3a3a3a" stroke-width="0.8"/>
<line x1="130.66" y1="372.3" x2="130.66" y2="374.90" stroke="#3a3a3a" stroke-width="0.8"/>
<text x="130.66" y="383.20" font-size="8.0" fill="#1c1c1c" text-anchor="middle" stroke="#1c1c1c" stroke-width="0.22" >2</text>
<line x1="136.70" y1="372.3" x2="136.70" y2="373.80" stroke="#3a3a3a" stroke-width="0.8"/>
<line x1="142.74" y1="372.3" x2="142.74" y2="374.90" stroke="#3a3a3a" stroke-width="0.8"/>
<text x="142.74" y="383.20" font-size="8.0" fill="#1c1c1c" text-anchor="middle" stroke="#1c1c1c" stroke-width="0.22" >3</text>
<line x1="148.78" y1="372.3" x2="148.78" y2="373.80" stroke="#3a3a3a" stroke-width="0.8"/>
<line x1="154.82" y1="372.3" x2="154.82" y2="374.90" stroke="#3a3a3a" stroke-width="0.8"/>
<text x="154.82" y="383.20" font-size="8.0" fill="#1c1c1c" text-anchor="middle" stroke="#1c1c1c" stroke-width="0.22" >4</text>
<text x="100.80" y="394.60" font-size="9.7" fill="#1c1c1c" text-anchor="middle" stroke="#1c1c1c" stroke-width="0.18" >−COHP</text>
<text x="0" y="0" font-size="9.4" fill="#1c1c1c" stroke="#1c1c1c" stroke-width="0.15" text-anchor="middle" transform="translate(23.60,285.5) rotate(-90)"><tspan font-style="italic">E</tspan> − <tspan font-style="italic">E</tspan><tspan font-style="italic" font-size="6.6" dy="2">f</tspan><tspan dy="-2"> (eV)</tspan></text>
<text x="48.40" y="209.90" font-size="10.6" fill="#342a28" text-anchor="start" stroke="#342a28" stroke-width="0.1" >+LP</text>
<rect x="121.10" y="202.4" width="30.5" height="21" rx="1.5" fill="#fff" fill-opacity="0.85" stroke="#d6d6d6" stroke-width="0.8"/>
<line x1="123.00" y1="207.9" x2="137.30" y2="207.9" stroke="#46a462" stroke-width="1.6"/>
<line x1="123.00" y1="216.8" x2="137.30" y2="216.8" stroke="#dc4456" stroke-width="1.6"/>
<text x="142.20" y="210.20" font-size="6.6" fill="#1a1a1a" text-anchor="start" stroke="#1a1a1a" stroke-width="0.45" >ax</text>
<text x="142.20" y="219.10" font-size="6.6" fill="#1a1a1a" text-anchor="start" stroke="#1a1a1a" stroke-width="0.45" >eq</text>
<line x1="271.70" y1="199.4" x2="271.70" y2="372.3" stroke="#8a8a8a" stroke-width="0.9"/>
<line x1="211.5" y1="285.85" x2="320.2" y2="285.85" stroke="#9c9c9c" stroke-width="1.1" stroke-dasharray="1.7,0.9"/>
<path d="M271.30,216.00 C270.74,216.50 268.10,219.36 266.80,220.00 C265.50,220.64 261.92,220.82 260.90,221.10 C259.88,221.38 258.98,221.69 258.60,222.20 C258.23,222.71 257.84,224.55 257.90,225.20 C257.96,225.85 258.69,226.84 259.10,227.40 C259.51,227.96 261.07,229.14 261.20,229.70 C261.32,230.26 260.33,231.35 260.10,231.90 C259.88,232.45 259.26,233.54 259.40,234.10 C259.54,234.66 261.11,235.84 261.20,236.40 C261.29,236.96 260.14,238.04 260.10,238.60 C260.06,239.16 260.90,240.24 260.90,240.90 C260.90,241.56 260.39,243.15 260.10,243.90 C259.81,244.65 258.91,246.16 258.60,246.90 C258.29,247.64 257.60,249.25 257.60,249.80 C257.60,250.35 258.15,250.93 258.60,251.30 C259.05,251.68 260.82,252.24 261.20,252.80 C261.57,253.36 261.36,255.05 261.60,255.80 C261.84,256.55 262.45,258.14 263.10,258.80 C263.75,259.46 265.78,260.64 266.80,261.10 C267.82,261.56 270.70,262.14 271.30,262.50 C271.90,262.86 271.54,261.12 271.60,264.00 C271.66,266.88 271.78,281.95 271.80,285.50 C271.82,289.05 271.75,290.89 271.80,292.40 C271.85,293.91 271.94,296.29 272.20,297.60 C272.46,298.91 273.35,301.80 273.90,302.90 C274.45,304.00 276.05,305.54 276.60,306.40 C277.15,307.26 278.00,308.91 278.30,309.80 C278.60,310.69 278.85,312.88 279.00,313.50 C279.15,314.12 279.61,314.48 279.50,314.80 C279.39,315.12 278.33,315.71 278.10,316.10 C277.88,316.49 277.59,317.46 277.70,317.90 C277.81,318.34 278.61,318.95 279.00,319.60 C279.39,320.25 280.53,322.39 280.80,323.10 C281.07,323.81 281.43,324.86 281.20,325.30 C280.97,325.74 279.60,326.26 279.00,326.60 C278.40,326.94 276.84,327.61 276.40,328.00 C275.96,328.39 275.50,329.21 275.50,329.70 C275.50,330.19 276.07,331.35 276.40,331.90 C276.72,332.45 277.45,333.61 278.10,334.10 C278.75,334.59 280.61,335.41 281.60,335.80 C282.59,336.19 285.18,336.93 286.00,337.20 C286.82,337.47 288.09,337.76 288.20,338.00 C288.31,338.24 287.94,338.83 286.90,339.10 C285.86,339.38 281.54,339.95 279.90,340.20 C278.26,340.45 274.79,340.88 273.80,341.10 C272.81,341.33 272.27,341.64 272.00,342.00 C271.73,342.36 271.65,343.75 271.60,344.00" fill="none" stroke="#2e9a50" stroke-width="1.6" stroke-linejoin="round"/>
<path d="M271.50,199.40 C271.48,201.41 271.70,213.21 271.30,215.50 C270.90,217.79 269.79,217.29 268.30,217.70 C266.81,218.11 262.39,218.36 259.40,218.80 C256.41,219.24 247.57,220.60 244.40,221.20 C241.23,221.80 235.93,223.01 234.00,223.60 C232.07,224.19 229.68,225.43 229.00,225.90 C228.32,226.38 228.45,227.03 228.60,227.40 C228.75,227.78 229.34,228.56 230.20,228.90 C231.06,229.24 234.19,229.72 235.50,230.10 C236.81,230.47 239.96,231.53 240.70,231.90 C241.44,232.28 241.69,232.82 241.40,233.10 C241.11,233.38 239.05,233.79 238.40,234.10 C237.75,234.41 236.10,235.22 236.20,235.60 C236.30,235.97 238.74,236.78 239.20,237.10 C239.66,237.42 240.19,237.88 239.90,238.20 C239.61,238.52 237.45,239.32 236.90,239.70 C236.35,240.07 235.40,240.77 235.50,241.20 C235.60,241.62 237.61,242.57 237.70,243.10 C237.79,243.62 237.04,244.84 236.20,245.40 C235.36,245.96 232.31,247.14 231.00,247.60 C229.69,248.06 226.45,248.79 225.70,249.10 C224.95,249.41 224.71,249.82 225.00,250.10 C225.29,250.38 227.25,251.00 228.00,251.30 C228.75,251.60 230.81,252.12 231.00,252.50 C231.19,252.88 229.79,253.89 229.50,254.30 C229.21,254.71 228.32,255.43 228.70,255.80 C229.07,256.18 230.54,256.89 232.50,257.30 C234.46,257.71 241.04,258.69 244.40,259.10 C247.76,259.51 256.41,260.26 259.40,260.60 C262.39,260.94 266.81,261.46 268.30,261.80 C269.79,262.14 270.89,262.96 271.30,263.30 C271.71,263.64 271.54,261.73 271.60,264.50 C271.66,267.27 271.69,282.11 271.80,285.50 C271.91,288.89 272.24,290.30 272.50,291.60 C272.76,292.90 273.55,294.92 273.90,295.90 C274.25,296.88 274.96,298.42 275.30,299.40 C275.64,300.38 276.23,302.82 276.60,303.70 C276.98,304.57 277.33,305.85 278.30,306.40 C279.27,306.95 283.16,307.65 284.40,308.10 C285.64,308.55 287.34,309.54 288.20,310.00 C289.06,310.46 290.43,311.36 291.30,311.80 C292.18,312.24 294.65,313.12 295.20,313.50 C295.75,313.88 296.19,314.48 295.70,314.80 C295.21,315.12 292.24,315.78 291.30,316.10 C290.36,316.43 288.70,317.06 288.20,317.40 C287.70,317.74 287.51,318.30 287.30,318.80 C287.09,319.30 286.44,320.91 286.50,321.40 C286.56,321.89 286.88,322.38 287.80,322.70 C288.73,323.02 292.42,323.73 293.90,324.00 C295.38,324.27 298.84,324.67 299.60,324.90 C300.36,325.12 300.60,325.59 300.00,325.80 C299.40,326.01 296.44,326.39 294.80,326.60 C293.16,326.81 288.55,327.23 286.90,327.50 C285.25,327.77 282.36,328.48 281.60,328.80 C280.84,329.12 280.69,329.76 280.80,330.10 C280.91,330.44 281.62,331.11 282.50,331.50 C283.38,331.89 285.94,332.71 287.80,333.20 C289.66,333.69 295.00,334.90 297.40,335.40 C299.80,335.90 304.98,336.88 307.00,337.20 C309.02,337.52 312.94,337.79 313.60,338.00 C314.26,338.21 313.66,338.70 312.30,338.90 C310.94,339.10 305.32,339.44 302.70,339.60 C300.07,339.76 294.15,340.05 291.30,340.20 C288.45,340.35 282.09,340.61 279.90,340.80 C277.71,340.99 274.79,341.47 273.80,341.70 C272.81,341.93 272.27,342.24 272.00,342.60 C271.73,342.96 271.65,340.89 271.60,344.60 C271.55,348.31 271.60,368.84 271.60,372.30" fill="none" stroke="#d42a3c" stroke-width="1.6" stroke-linejoin="round"/>
<line x1="211.5" y1="199.4" x2="320.2" y2="199.4" stroke="#555" stroke-width="0.9"/>
<line x1="320.2" y1="199.4" x2="320.2" y2="372.3" stroke="#666" stroke-width="1.1"/>
<line x1="211.5" y1="199.4" x2="211.5" y2="372.3" stroke="#3a3a3a" stroke-width="0.9"/>
<line x1="211.5" y1="372.3" x2="320.2" y2="372.3" stroke="#3a3a3a" stroke-width="0.9"/>
<line x1="208.90" y1="372.30" x2="211.5" y2="372.30" stroke="#3a3a3a" stroke-width="0.8"/>
<text x="207.10" y="375.20" font-size="8.0" fill="#1c1c1c" text-anchor="end" stroke="#1c1c1c" stroke-width="0.22" >−10</text>
<line x1="210.00" y1="363.66" x2="211.5" y2="363.66" stroke="#3a3a3a" stroke-width="0.8"/>
<line x1="208.90" y1="355.01" x2="211.5" y2="355.01" stroke="#3a3a3a" stroke-width="0.8"/>
<text x="207.10" y="357.91" font-size="8.0" fill="#1c1c1c" text-anchor="end" stroke="#1c1c1c" stroke-width="0.22" >−8</text>
<line x1="210.00" y1="346.37" x2="211.5" y2="346.37" stroke="#3a3a3a" stroke-width="0.8"/>
<line x1="208.90" y1="337.72" x2="211.5" y2="337.72" stroke="#3a3a3a" stroke-width="0.8"/>
<text x="207.10" y="340.62" font-size="8.0" fill="#1c1c1c" text-anchor="end" stroke="#1c1c1c" stroke-width="0.22" >−6</text>
<line x1="210.00" y1="329.08" x2="211.5" y2="329.08" stroke="#3a3a3a" stroke-width="0.8"/>
<line x1="208.90" y1="320.43" x2="211.5" y2="320.43" stroke="#3a3a3a" stroke-width="0.8"/>
<text x="207.10" y="323.33" font-size="8.0" fill="#1c1c1c" text-anchor="end" stroke="#1c1c1c" stroke-width="0.22" >−4</text>
<line x1="210.00" y1="311.79" x2="211.5" y2="311.79" stroke="#3a3a3a" stroke-width="0.8"/>
<line x1="208.90" y1="303.14" x2="211.5" y2="303.14" stroke="#3a3a3a" stroke-width="0.8"/>
<text x="207.10" y="306.04" font-size="8.0" fill="#1c1c1c" text-anchor="end" stroke="#1c1c1c" stroke-width="0.22" >−2</text>
<line x1="210.00" y1="294.50" x2="211.5" y2="294.50" stroke="#3a3a3a" stroke-width="0.8"/>
<line x1="208.90" y1="285.85" x2="211.5" y2="285.85" stroke="#3a3a3a" stroke-width="0.8"/>
<text x="207.10" y="288.75" font-size="8.0" fill="#1c1c1c" text-anchor="end" stroke="#1c1c1c" stroke-width="0.22" >0</text>
<line x1="210.00" y1="277.21" x2="211.5" y2="277.21" stroke="#3a3a3a" stroke-width="0.8"/>
<line x1="208.90" y1="268.56" x2="211.5" y2="268.56" stroke="#3a3a3a" stroke-width="0.8"/>
<text x="207.10" y="271.46" font-size="8.0" fill="#1c1c1c" text-anchor="end" stroke="#1c1c1c" stroke-width="0.22" >2</text>
<line x1="210.00" y1="259.92" x2="211.5" y2="259.92" stroke="#3a3a3a" stroke-width="0.8"/>
<line x1="208.90" y1="251.27" x2="211.5" y2="251.27" stroke="#3a3a3a" stroke-width="0.8"/>
<text x="207.10" y="254.17" font-size="8.0" fill="#1c1c1c" text-anchor="end" stroke="#1c1c1c" stroke-width="0.22" >4</text>
<line x1="210.00" y1="242.63" x2="211.5" y2="242.63" stroke="#3a3a3a" stroke-width="0.8"/>
<line x1="208.90" y1="233.98" x2="211.5" y2="233.98" stroke="#3a3a3a" stroke-width="0.8"/>
<text x="207.10" y="236.88" font-size="8.0" fill="#1c1c1c" text-anchor="end" stroke="#1c1c1c" stroke-width="0.22" >6</text>
<line x1="210.00" y1="225.34" x2="211.5" y2="225.34" stroke="#3a3a3a" stroke-width="0.8"/>
<line x1="208.90" y1="216.69" x2="211.5" y2="216.69" stroke="#3a3a3a" stroke-width="0.8"/>
<text x="207.10" y="219.59" font-size="8.0" fill="#1c1c1c" text-anchor="end" stroke="#1c1c1c" stroke-width="0.22" >8</text>
<line x1="210.00" y1="208.05" x2="211.5" y2="208.05" stroke="#3a3a3a" stroke-width="0.8"/>
<line x1="208.90" y1="199.40" x2="211.5" y2="199.40" stroke="#3a3a3a" stroke-width="0.8"/>
<text x="207.10" y="202.30" font-size="8.0" fill="#1c1c1c" text-anchor="end" stroke="#1c1c1c" stroke-width="0.22" >10</text>
<line x1="211.30" y1="372.3" x2="211.30" y2="374.90" stroke="#3a3a3a" stroke-width="0.8"/>
<text x="211.30" y="383.20" font-size="8.0" fill="#1c1c1c" text-anchor="middle" stroke="#1c1c1c" stroke-width="0.22" >−5</text>
<line x1="217.34" y1="372.3" x2="217.34" y2="373.80" stroke="#3a3a3a" stroke-width="0.8"/>
<line x1="223.38" y1="372.3" x2="223.38" y2="374.90" stroke="#3a3a3a" stroke-width="0.8"/>
<text x="223.38" y="383.20" font-size="8.0" fill="#1c1c1c" text-anchor="middle" stroke="#1c1c1c" stroke-width="0.22" >−4</text>
<line x1="229.42" y1="372.3" x2="229.42" y2="373.80" stroke="#3a3a3a" stroke-width="0.8"/>
<line x1="235.46" y1="372.3" x2="235.46" y2="374.90" stroke="#3a3a3a" stroke-width="0.8"/>
<text x="235.46" y="383.20" font-size="8.0" fill="#1c1c1c" text-anchor="middle" stroke="#1c1c1c" stroke-width="0.22" >−3</text>
<line x1="241.50" y1="372.3" x2="241.50" y2="373.80" stroke="#3a3a3a" stroke-width="0.8"/>
<line x1="247.54" y1="372.3" x2="247.54" y2="374.90" stroke="#3a3a3a" stroke-width="0.8"/>
<text x="247.54" y="383.20" font-size="8.0" fill="#1c1c1c" text-anchor="middle" stroke="#1c1c1c" stroke-width="0.22" >−2</text>
<line x1="253.58" y1="372.3" x2="253.58" y2="373.80" stroke="#3a3a3a" stroke-width="0.8"/>
<line x1="259.62" y1="372.3" x2="259.62" y2="374.90" stroke="#3a3a3a" stroke-width="0.8"/>
<text x="259.62" y="383.20" font-size="8.0" fill="#1c1c1c" text-anchor="middle" stroke="#1c1c1c" stroke-width="0.22" >−1</text>
<line x1="265.66" y1="372.3" x2="265.66" y2="373.80" stroke="#3a3a3a" stroke-width="0.8"/>
<line x1="271.70" y1="372.3" x2="271.70" y2="374.90" stroke="#3a3a3a" stroke-width="0.8"/>
<text x="271.70" y="383.20" font-size="8.0" fill="#1c1c1c" text-anchor="middle" stroke="#1c1c1c" stroke-width="0.22" >0</text>
<line x1="277.74" y1="372.3" x2="277.74" y2="373.80" stroke="#3a3a3a" stroke-width="0.8"/>
<line x1="283.78" y1="372.3" x2="283.78" y2="374.90" stroke="#3a3a3a" stroke-width="0.8"/>
<text x="283.78" y="383.20" font-size="8.0" fill="#1c1c1c" text-anchor="middle" stroke="#1c1c1c" stroke-width="0.22" >1</text>
<line x1="289.82" y1="372.3" x2="289.82" y2="373.80" stroke="#3a3a3a" stroke-width="0.8"/>
<line x1="295.86" y1="372.3" x2="295.86" y2="374.90" stroke="#3a3a3a" stroke-width="0.8"/>
<text x="295.86" y="383.20" font-size="8.0" fill="#1c1c1c" text-anchor="middle" stroke="#1c1c1c" stroke-width="0.22" >2</text>
<line x1="301.90" y1="372.3" x2="301.90" y2="373.80" stroke="#3a3a3a" stroke-width="0.8"/>
<line x1="307.94" y1="372.3" x2="307.94" y2="374.90" stroke="#3a3a3a" stroke-width="0.8"/>
<text x="307.94" y="383.20" font-size="8.0" fill="#1c1c1c" text-anchor="middle" stroke="#1c1c1c" stroke-width="0.22" >3</text>
<line x1="313.98" y1="372.3" x2="313.98" y2="373.80" stroke="#3a3a3a" stroke-width="0.8"/>
<line x1="320.02" y1="372.3" x2="320.02" y2="374.90" stroke="#3a3a3a" stroke-width="0.8"/>
<text x="320.02" y="383.20" font-size="8.0" fill="#1c1c1c" text-anchor="middle" stroke="#1c1c1c" stroke-width="0.22" >4</text>
<text x="266.00" y="394.60" font-size="9.7" fill="#1c1c1c" text-anchor="middle" stroke="#1c1c1c" stroke-width="0.18" >−COHP</text>
<text x="0" y="0" font-size="9.4" fill="#1c1c1c" stroke="#1c1c1c" stroke-width="0.15" text-anchor="middle" transform="translate(188.80,285.5) rotate(-90)"><tspan font-style="italic">E</tspan> − <tspan font-style="italic">E</tspan><tspan font-style="italic" font-size="6.6" dy="2">f</tspan><tspan dy="-2"> (eV)</tspan></text>
<text x="213.60" y="209.90" font-size="10.6" fill="#342a28" text-anchor="start" stroke="#342a28" stroke-width="0.1" >+HP</text>
<rect x="286.30" y="202.4" width="30.5" height="21" rx="1.5" fill="#fff" fill-opacity="0.85" stroke="#d6d6d6" stroke-width="0.8"/>
<line x1="288.20" y1="207.9" x2="302.50" y2="207.9" stroke="#46a462" stroke-width="1.6"/>
<line x1="288.20" y1="216.8" x2="302.50" y2="216.8" stroke="#dc4456" stroke-width="1.6"/>
<text x="307.40" y="210.20" font-size="6.6" fill="#1a1a1a" text-anchor="start" stroke="#1a1a1a" stroke-width="0.45" >ax</text>
<text x="307.40" y="219.10" font-size="6.6" fill="#1a1a1a" text-anchor="start" stroke="#1a1a1a" stroke-width="0.45" >eq</text>
<g id="fpanel"></g>
<circle cx="417.5" cy="221" r="3.9" fill="url(#gs)"/>
<circle cx="417" cy="333.6" r="3.9" fill="url(#gs)"/>
<circle cx="495.3" cy="336.5" r="3.9" fill="url(#gs)"/>
<circle cx="495.4" cy="275.5" r="3.9" fill="url(#gs)"/>
<circle cx="437.3" cy="273.5" r="3.9" fill="url(#gs)"/>
<g clip-path="url(#cf)">
<ellipse cx="432" cy="242" rx="7.14" ry="7.14" fill="url(#gc)" fill-opacity="0.9" stroke="#118494" stroke-width="0.6" stroke-opacity="0.85"/>
<ellipse cx="419.5" cy="230" rx="10.2" ry="8.98" fill="url(#gy)" fill-opacity="0.92" stroke="#a6b236" stroke-width="0.6" stroke-opacity="0.85"/>
<ellipse cx="439.6" cy="233" rx="11.22" ry="10.71" fill="url(#gg)" fill-opacity="0.92" stroke="#a6b236" stroke-width="0.6" stroke-opacity="0.85"/>
<ellipse cx="459.3" cy="225" rx="8.98" ry="8.16" fill="url(#gy)" fill-opacity="0.92" stroke="#a6b236" stroke-width="0.6" stroke-opacity="0.85"/>
<ellipse cx="475.5" cy="229.7" rx="9.38" ry="9.38" fill="url(#gy)" fill-opacity="0.92" stroke="#a6b236" stroke-width="0.6" stroke-opacity="0.85"/>
<ellipse cx="496" cy="234" rx="10.2" ry="11.22" fill="url(#gg)" fill-opacity="0.92" stroke="#a6b236" stroke-width="0.6" stroke-opacity="0.85"/>
<ellipse cx="418.5" cy="259" rx="9.69" ry="9.49" fill="url(#gy)" fill-opacity="0.92" stroke="#a6b236" stroke-width="0.6" stroke-opacity="0.85"/>
<ellipse cx="440.5" cy="253" rx="11.22" ry="7.14" fill="url(#gy)" fill-opacity="0.92" stroke="#a6b236" stroke-width="0.6" stroke-opacity="0.85"/>
<ellipse cx="459.5" cy="261.5" rx="10.2" ry="10.71" fill="url(#gy)" fill-opacity="0.92" stroke="#a6b236" stroke-width="0.6" stroke-opacity="0.85"/>
<ellipse cx="476.9" cy="261" rx="9.59" ry="8.57" fill="url(#gg)" fill-opacity="0.92" stroke="#a6b236" stroke-width="0.6" stroke-opacity="0.85"/>
<ellipse cx="496" cy="254" rx="10.2" ry="8.16" fill="url(#gy)" fill-opacity="0.92" stroke="#a6b236" stroke-width="0.6" stroke-opacity="0.85"/>
<ellipse cx="419" cy="288.8" rx="11.22" ry="8.67" fill="url(#gy)" fill-opacity="0.92" stroke="#a6b236" stroke-width="0.6" stroke-opacity="0.85"/>
<ellipse cx="438.7" cy="282.4" rx="9.89" ry="7.85" fill="url(#gy)" fill-opacity="0.92" stroke="#a6b236" stroke-width="0.6" stroke-opacity="0.85"/>
<ellipse cx="475.3" cy="291" rx="9.89" ry="10.71" fill="url(#gy)" fill-opacity="0.92" stroke="#a6b236" stroke-width="0.6" stroke-opacity="0.85"/>
<ellipse cx="494.6" cy="282" rx="12.24" ry="9.18" fill="url(#gy)" fill-opacity="0.92" stroke="#a6b236" stroke-width="0.6" stroke-opacity="0.85"/>
<ellipse cx="418" cy="319.6" rx="10.2" ry="10.2" fill="url(#gy)" fill-opacity="0.92" stroke="#a6b236" stroke-width="0.6" stroke-opacity="0.85"/>
<ellipse cx="437.8" cy="314.6" rx="8.98" ry="8.77" fill="url(#gy)" fill-opacity="0.92" stroke="#a6b236" stroke-width="0.6" stroke-opacity="0.85"/>
<ellipse cx="474" cy="317.5" rx="11.22" ry="9.18" fill="url(#gy)" fill-opacity="0.92" stroke="#a6b236" stroke-width="0.6" stroke-opacity="0.85"/>
<ellipse cx="494.6" cy="316.7" rx="9.89" ry="9.08" fill="url(#gy)" fill-opacity="0.92" stroke="#a6b236" stroke-width="0.6" stroke-opacity="0.85"/>
<ellipse cx="417.5" cy="340.3" rx="10.2" ry="7.85" fill="url(#gy)" fill-opacity="0.92" stroke="#a6b236" stroke-width="0.6" stroke-opacity="0.85"/>
<ellipse cx="438.4" cy="346" rx="9.49" ry="9.79" fill="url(#gy)" fill-opacity="0.92" stroke="#a6b236" stroke-width="0.6" stroke-opacity="0.85"/>
<ellipse cx="456" cy="346.3" rx="9.69" ry="8.47" fill="url(#gy)" fill-opacity="0.92" stroke="#a6b236" stroke-width="0.6" stroke-opacity="0.85"/>
<ellipse cx="474.2" cy="340.3" rx="11.73" ry="8.77" fill="url(#gy)" fill-opacity="0.92" stroke="#a6b236" stroke-width="0.6" stroke-opacity="0.85"/>
<ellipse cx="495.7" cy="345.2" rx="9.38" ry="8.77" fill="url(#gy)" fill-opacity="0.92" stroke="#a6b236" stroke-width="0.6" stroke-opacity="0.85"/>
<ellipse cx="419.5" cy="368.6" rx="12.24" ry="8.36" fill="url(#gy)" fill-opacity="0.92" stroke="#a6b236" stroke-width="0.6" stroke-opacity="0.85"/>
<ellipse cx="439" cy="373" rx="9.79" ry="9.79" fill="url(#gy)" fill-opacity="0.92" stroke="#a6b236" stroke-width="0.6" stroke-opacity="0.85"/>
<ellipse cx="458" cy="375" rx="9.18" ry="9.18" fill="url(#gy)" fill-opacity="0.92" stroke="#a6b236" stroke-width="0.6" stroke-opacity="0.85"/>
<ellipse cx="475" cy="369.6" rx="9.79" ry="7.34" fill="url(#gy)" fill-opacity="0.92" stroke="#a6b236" stroke-width="0.6" stroke-opacity="0.85"/>
<ellipse cx="494.8" cy="377.2" rx="11.22" ry="11.22" fill="url(#gy)" fill-opacity="0.92" stroke="#a6b236" stroke-width="0.6" stroke-opacity="0.85"/>
<ellipse cx="417.5" cy="218.5" rx="12.24" ry="4.28" fill="url(#gc)" fill-opacity="0.8" stroke="#118494" stroke-width="0.6" stroke-opacity="0.85"/>
<ellipse cx="436" cy="218.5" rx="10.2" ry="4.08" fill="url(#gc)" fill-opacity="0.8" stroke="#118494" stroke-width="0.6" stroke-opacity="0.85"/>
<ellipse cx="459" cy="218" rx="12.24" ry="3.57" fill="url(#gc)" fill-opacity="0.8" stroke="#118494" stroke-width="0.6" stroke-opacity="0.85"/>
<ellipse cx="488" cy="218.5" rx="8.16" ry="4.28" fill="url(#gc)" fill-opacity="0.8" stroke="#118494" stroke-width="0.6" stroke-opacity="0.85"/>
<ellipse cx="506.5" cy="218.5" rx="5.1" ry="3.88" fill="url(#gc)" fill-opacity="0.8" stroke="#118494" stroke-width="0.6" stroke-opacity="0.85"/>
<ellipse cx="416" cy="243" rx="10.2" ry="8.16" fill="url(#gc)" fill-opacity="0.8" stroke="#118494" stroke-width="0.6" stroke-opacity="0.85"/>
<ellipse cx="458" cy="244" rx="12.04" ry="8.16" fill="url(#gc)" fill-opacity="0.8" stroke="#118494" stroke-width="0.6" stroke-opacity="0.85"/>
<ellipse cx="490" cy="236" rx="6.63" ry="10.71" fill="url(#gc)" fill-opacity="0.8" stroke="#118494" stroke-width="0.6" stroke-opacity="0.85"/>
<ellipse cx="422" cy="272" rx="10.71" ry="8.16" fill="url(#gc)" fill-opacity="0.8" stroke="#118494" stroke-width="0.6" stroke-opacity="0.85"/>
<ellipse cx="440" cy="267" rx="9.18" ry="8.16" fill="url(#gc)" fill-opacity="0.8" stroke="#118494" stroke-width="0.6" stroke-opacity="0.85"/>
<ellipse cx="476" cy="272.7" rx="9.89" ry="7.85" fill="url(#gc)" fill-opacity="0.8" stroke="#118494" stroke-width="0.6" stroke-opacity="0.85"/>
<ellipse cx="495.5" cy="266" rx="9.69" ry="8.16" fill="url(#gc)" fill-opacity="0.8" stroke="#118494" stroke-width="0.6" stroke-opacity="0.85"/>
<ellipse cx="458" cy="276" rx="11.22" ry="8.67" fill="url(#gc)" fill-opacity="0.8" stroke="#118494" stroke-width="0.6" stroke-opacity="0.85"/>
<ellipse cx="422" cy="301.8" rx="10.2" ry="7.85" fill="url(#gc)" fill-opacity="0.8" stroke="#118494" stroke-width="0.6" stroke-opacity="0.85"/>
<ellipse cx="440.3" cy="300.6" rx="8.16" ry="8.16" fill="url(#gc)" fill-opacity="0.8" stroke="#118494" stroke-width="0.6" stroke-opacity="0.85"/>
<ellipse cx="458" cy="295" rx="11.22" ry="9.18" fill="url(#gc)" fill-opacity="0.8" stroke="#118494" stroke-width="0.6" stroke-opacity="0.85"/>
<ellipse cx="478.4" cy="303" rx="9.89" ry="7.45" fill="url(#gc)" fill-opacity="0.8" stroke="#118494" stroke-width="0.6" stroke-opacity="0.85"/>
<ellipse cx="497.8" cy="301" rx="9.89" ry="7.85" fill="url(#gc)" fill-opacity="0.8" stroke="#118494" stroke-width="0.6" stroke-opacity="0.85"/>
<ellipse cx="420" cy="329" rx="10.71" ry="5.1" fill="url(#gc)" fill-opacity="0.8" stroke="#118494" stroke-width="0.6" stroke-opacity="0.85"/>
<ellipse cx="441.8" cy="328" rx="10.71" ry="7.14" fill="url(#gc)" fill-opacity="0.8" stroke="#118494" stroke-width="0.6" stroke-opacity="0.85"/>
<ellipse cx="458" cy="331" rx="10.2" ry="8.16" fill="url(#gc)" fill-opacity="0.8" stroke="#118494" stroke-width="0.6" stroke-opacity="0.85"/>
<ellipse cx="474.5" cy="321" rx="8.16" ry="9.69" fill="url(#gc)" fill-opacity="0.8" stroke="#118494" stroke-width="0.6" stroke-opacity="0.85"/>
<ellipse cx="476" cy="327.5" rx="9.79" ry="3.57" fill="url(#gc)" fill-opacity="0.8" stroke="#118494" stroke-width="0.6" stroke-opacity="0.85"/>
<ellipse cx="498" cy="329" rx="9.69" ry="7.65" fill="url(#gc)" fill-opacity="0.8" stroke="#118494" stroke-width="0.6" stroke-opacity="0.85"/>
<ellipse cx="419" cy="351" rx="9.79" ry="9.79" fill="url(#gc)" fill-opacity="0.8" stroke="#118494" stroke-width="0.6" stroke-opacity="0.85"/>
<ellipse cx="435.7" cy="359" rx="10.2" ry="7.34" fill="url(#gc)" fill-opacity="0.8" stroke="#118494" stroke-width="0.6" stroke-opacity="0.85"/>
<ellipse cx="456" cy="359" rx="11.22" ry="7.34" fill="url(#gc)" fill-opacity="0.8" stroke="#118494" stroke-width="0.6" stroke-opacity="0.85"/>
<ellipse cx="476" cy="353.8" rx="9.79" ry="8.77" fill="url(#gc)" fill-opacity="0.8" stroke="#118494" stroke-width="0.6" stroke-opacity="0.85"/>
<ellipse cx="491.5" cy="359" rx="10.71" ry="7.34" fill="url(#gc)" fill-opacity="0.8" stroke="#118494" stroke-width="0.6" stroke-opacity="0.85"/>
<ellipse cx="416.5" cy="385" rx="10.2" ry="6.12" fill="url(#gc)" fill-opacity="0.8" stroke="#118494" stroke-width="0.6" stroke-opacity="0.85"/>
<ellipse cx="436.7" cy="385.5" rx="10.2" ry="6.12" fill="url(#gc)" fill-opacity="0.8" stroke="#118494" stroke-width="0.6" stroke-opacity="0.85"/>
<ellipse cx="455" cy="386" rx="7.14" ry="5.1" fill="url(#gc)" fill-opacity="0.8" stroke="#118494" stroke-width="0.6" stroke-opacity="0.85"/>
<ellipse cx="473.2" cy="385" rx="8.87" ry="6.12" fill="url(#gc)" fill-opacity="0.8" stroke="#118494" stroke-width="0.6" stroke-opacity="0.85"/>
<ellipse cx="492.4" cy="386.4" rx="9.79" ry="5.1" fill="url(#gc)" fill-opacity="0.8" stroke="#118494" stroke-width="0.6" stroke-opacity="0.85"/>
<ellipse cx="452.8" cy="311" rx="10.51" ry="8.36" fill="url(#gy)" fill-opacity="0.9" stroke="#a6b236" stroke-width="0.6" stroke-opacity="0.85"/>
<line x1="456.2" y1="216.6" x2="456.2" y2="390.2" stroke="#7a8a90" stroke-width="0.7" stroke-opacity="0.7"/>
</g>
<rect x="399.3" y="216.6" width="115.8" height="173.6" fill="none" stroke="#c4c4c4" stroke-width="1"/>
<line x1="495.7" y1="221" x2="494.70" y2="207.40" stroke="#6c9cc4" stroke-width="1.5"/>
<line x1="494.70" y1="207.40" x2="493.7" y2="193.8" stroke="#cfd63a" stroke-width="1.5"/>
<line x1="495.7" y1="221" x2="506.25" y2="219.15" stroke="#6c9cc4" stroke-width="1.5"/>
<line x1="506.25" y1="219.15" x2="516.8" y2="217.3" stroke="#cfd63a" stroke-width="1.5"/>
<line x1="495.7" y1="221" x2="485.80" y2="221.40" stroke="#6c9cc4" stroke-width="1.5"/>
<line x1="485.80" y1="221.40" x2="475.9" y2="221.8" stroke="#cfd63a" stroke-width="1.5"/>
<line x1="495.7" y1="221" x2="496.25" y2="233.50" stroke="#6c9cc4" stroke-width="1.5"/>
<line x1="496.25" y1="233.50" x2="496.8" y2="246" stroke="#cfd63a" stroke-width="1.5"/>
<line x1="476.3" y1="243.9" x2="476.10" y2="232.85" stroke="#6c9cc4" stroke-width="1.5"/>
<line x1="476.10" y1="232.85" x2="475.9" y2="221.8" stroke="#cfd63a" stroke-width="1.5"/>
<line x1="476.3" y1="243.9" x2="475.55" y2="247.25" stroke="#6c9cc4" stroke-width="1.5"/>
<line x1="475.55" y1="247.25" x2="474.8" y2="250.6" stroke="#cfd63a" stroke-width="1.5"/>
<line x1="476.3" y1="243.9" x2="486.55" y2="244.95" stroke="#6c9cc4" stroke-width="1.5"/>
<line x1="486.55" y1="244.95" x2="496.8" y2="246" stroke="#cfd63a" stroke-width="1.5"/>
<line x1="437.6" y1="250.6" x2="427.20" y2="250.05" stroke="#6c9cc4" stroke-width="1.5"/>
<line x1="427.20" y1="250.05" x2="416.8" y2="249.5" stroke="#cfd63a" stroke-width="1.5"/>
<line x1="437.6" y1="250.6" x2="437.30" y2="236.40" stroke="#6c9cc4" stroke-width="1.5"/>
<line x1="437.30" y1="236.40" x2="437" y2="222.2" stroke="#cfd63a" stroke-width="1.5"/>
<line x1="437.6" y1="250.6" x2="437.45" y2="262.05" stroke="#6c9cc4" stroke-width="1.5"/>
<line x1="437.45" y1="262.05" x2="437.3" y2="273.5" stroke="#cfd63a" stroke-width="1.5"/>
<line x1="418.3" y1="272.5" x2="417.55" y2="261.00" stroke="#6c9cc4" stroke-width="1.5"/>
<line x1="417.55" y1="261.00" x2="416.8" y2="249.5" stroke="#cfd63a" stroke-width="1.5"/>
<line x1="418.3" y1="272.5" x2="408.25" y2="275.60" stroke="#6c9cc4" stroke-width="1.5"/>
<line x1="408.25" y1="275.60" x2="398.2" y2="278.7" stroke="#cfd63a" stroke-width="1.5"/>
<line x1="418.3" y1="272.5" x2="427.80" y2="273.00" stroke="#6c9cc4" stroke-width="1.5"/>
<line x1="427.80" y1="273.00" x2="437.3" y2="273.5" stroke="#cfd63a" stroke-width="1.5"/>
<line x1="456.9" y1="278.7" x2="447.10" y2="276.10" stroke="#6c9cc4" stroke-width="1.5"/>
<line x1="447.10" y1="276.10" x2="437.3" y2="273.5" stroke="#cfd63a" stroke-width="1.5"/>
<line x1="456.9" y1="278.7" x2="467.25" y2="279.55" stroke="#6c9cc4" stroke-width="1.5"/>
<line x1="467.25" y1="279.55" x2="477.6" y2="280.4" stroke="#cfd63a" stroke-width="1.5"/>
<line x1="456.9" y1="388.5" x2="446.85" y2="392.40" stroke="#6c9cc4" stroke-width="1.5"/>
<line x1="446.85" y1="392.40" x2="436.8" y2="396.3" stroke="#cfd63a" stroke-width="1.5"/>
<line x1="456.9" y1="388.5" x2="466.30" y2="391.45" stroke="#6c9cc4" stroke-width="1.5"/>
<line x1="466.30" y1="391.45" x2="475.7" y2="394.4" stroke="#cfd63a" stroke-width="1.5"/>
<line x1="495.3" y1="359.5" x2="505.65" y2="362.40" stroke="#6c9cc4" stroke-width="1.5"/>
<line x1="505.65" y1="362.40" x2="516" y2="365.3" stroke="#cfd63a" stroke-width="1.5"/>
<line x1="495.3" y1="359.5" x2="494.80" y2="363.15" stroke="#6c9cc4" stroke-width="1.5"/>
<line x1="494.80" y1="363.15" x2="494.3" y2="366.8" stroke="#cfd63a" stroke-width="1.5"/>
<line x1="414" y1="306.5" x2="405.70" y2="305.15" stroke="#6c9cc4" stroke-width="1.5"/>
<line x1="405.70" y1="305.15" x2="397.4" y2="303.8" stroke="#cfd63a" stroke-width="1.5"/>
<circle cx="495.7" cy="221" r="5.3" fill="url(#ga)"/>
<circle cx="437.6" cy="250.6" r="5.3" fill="url(#ga)"/>
<circle cx="476.3" cy="243.9" r="5.3" fill="url(#ga)"/>
<circle cx="418.3" cy="272.5" r="5.3" fill="url(#ga)"/>
<circle cx="456.9" cy="278.7" r="5.3" fill="url(#ga)"/>
<circle cx="456.9" cy="388.5" r="5.3" fill="url(#ga)"/>
<circle cx="493.7" cy="193.8" r="3.9" fill="url(#gs)"/>
<circle cx="516.8" cy="217.3" r="3.9" fill="url(#gs)"/>
<circle cx="475.9" cy="221.8" r="3.9" fill="url(#gs)"/>
<circle cx="458.5" cy="216.2" r="3.9" fill="url(#gs)"/>
<circle cx="437" cy="222.2" r="3.9" fill="url(#gs)"/>
<circle cx="438.4" cy="246.1" r="3.9" fill="url(#gs)"/>
<circle cx="496.8" cy="246" r="3.9" fill="url(#gs)"/>
<circle cx="416.8" cy="249.5" r="3.9" fill="url(#gs)"/>
<circle cx="474.8" cy="250.6" r="3.9" fill="url(#gs)"/>
<circle cx="437" cy="275" r="3.9" fill="url(#gs)"/>
<circle cx="398.2" cy="278.7" r="3.9" fill="url(#gs)"/>
<circle cx="477.6" cy="280.4" r="3.9" fill="url(#gs)"/>
<circle cx="397.4" cy="303.8" r="3.9" fill="url(#gs)"/>
<circle cx="419.3" cy="309" r="3.9" fill="url(#gs)"/>
<circle cx="496.2" cy="307.4" r="3.9" fill="url(#gs)"/>
<circle cx="439.1" cy="336.5" r="3.9" fill="url(#gs)"/>
<circle cx="475.1" cy="333" r="3.9" fill="url(#gs)"/>
<circle cx="419" cy="361.4" r="3.9" fill="url(#gs)"/>
<circle cx="494.3" cy="366.8" r="3.9" fill="url(#gs)"/>
<circle cx="516" cy="365.3" r="3.9" fill="url(#gs)"/>
<circle cx="436.8" cy="396.3" r="3.9" fill="url(#gs)"/>
<circle cx="475.7" cy="394.4" r="3.9" fill="url(#gs)"/>
<g clip-path="url(#cg)">
<ellipse cx="572.2" cy="222.3" rx="3.95" ry="3.95" fill="url(#gc)" fill-opacity="0.8" stroke="#118494" stroke-width="0.6" stroke-opacity="0.85"/>
<ellipse cx="574.6" cy="212.5" rx="3.64" ry="1.87" fill="url(#gy)" fill-opacity="0.92" stroke="#a6b236" stroke-width="0.6" stroke-opacity="0.85"/>
<ellipse cx="593.2" cy="223.6" rx="3.12" ry="3.33" fill="url(#gc)" fill-opacity="0.8" stroke="#118494" stroke-width="0.6" stroke-opacity="0.85"/>
<ellipse cx="607.3" cy="224" rx="13.0" ry="9.15" fill="url(#gc)" fill-opacity="0.8" stroke="#118494" stroke-width="0.6" stroke-opacity="0.85" transform="rotate(28 607.3 224)"/>
<ellipse cx="592" cy="216.4" rx="6.24" ry="4.99" fill="url(#gy)" fill-opacity="0.92" stroke="#a6b236" stroke-width="0.6" stroke-opacity="0.85"/>
<ellipse cx="615.6" cy="214.5" rx="5.82" ry="3.12" fill="url(#gy)" fill-opacity="0.92" stroke="#a6b236" stroke-width="0.6" stroke-opacity="0.85"/>
<ellipse cx="646.3" cy="215.7" rx="5.93" ry="4.06" fill="url(#gy)" fill-opacity="0.92" stroke="#a6b236" stroke-width="0.6" stroke-opacity="0.85"/>
<ellipse cx="626" cy="222" rx="4.99" ry="3.33" fill="url(#gc)" fill-opacity="0.8" stroke="#118494" stroke-width="0.6" stroke-opacity="0.85"/>
<ellipse cx="647.4" cy="223.6" rx="3.74" ry="3.33" fill="url(#gc)" fill-opacity="0.8" stroke="#118494" stroke-width="0.6" stroke-opacity="0.85"/>
<ellipse cx="589.6" cy="253" rx="10.92" ry="7.28" fill="url(#gc)" fill-opacity="0.8" stroke="#118494" stroke-width="0.6" stroke-opacity="0.85"/>
<ellipse cx="643.4" cy="253.5" rx="12.17" ry="9.26" fill="url(#gc)" fill-opacity="0.8" stroke="#118494" stroke-width="0.6" stroke-opacity="0.85"/>
<ellipse cx="593.6" cy="240" rx="14.04" ry="8.94" fill="url(#gy)" fill-opacity="0.92" stroke="#a6b236" stroke-width="0.6" stroke-opacity="0.85" transform="rotate(24 593.6 240)"/>
<ellipse cx="647" cy="239" rx="11.75" ry="8.32" fill="url(#gy)" fill-opacity="0.92" stroke="#a6b236" stroke-width="0.6" stroke-opacity="0.85"/>
<ellipse cx="612.5" cy="243.5" rx="6.76" ry="5.72" fill="url(#gy)" fill-opacity="0.92" stroke="#a6b236" stroke-width="0.6" stroke-opacity="0.85"/>
<ellipse cx="572.6" cy="252" rx="4.16" ry="3.33" fill="url(#gc)" fill-opacity="0.8" stroke="#118494" stroke-width="0.6" stroke-opacity="0.85"/>
<ellipse cx="609" cy="252" rx="4.16" ry="3.33" fill="url(#gc)" fill-opacity="0.8" stroke="#118494" stroke-width="0.6" stroke-opacity="0.85"/>
<ellipse cx="626.4" cy="251.5" rx="3.74" ry="2.91" fill="url(#gc)" fill-opacity="0.8" stroke="#118494" stroke-width="0.6" stroke-opacity="0.85"/>
<ellipse cx="591.6" cy="283.2" rx="13.0" ry="8.84" fill="url(#gc)" fill-opacity="0.8" stroke="#118494" stroke-width="0.6" stroke-opacity="0.85"/>
<ellipse cx="644.6" cy="284.4" rx="10.92" ry="7.59" fill="url(#gc)" fill-opacity="0.8" stroke="#118494" stroke-width="0.6" stroke-opacity="0.85"/>
<ellipse cx="592" cy="266.5" rx="11.96" ry="7.8" fill="url(#gy)" fill-opacity="0.92" stroke="#a6b236" stroke-width="0.6" stroke-opacity="0.85"/>
<ellipse cx="645.8" cy="269" rx="13.0" ry="8.84" fill="url(#gy)" fill-opacity="0.92" stroke="#a6b236" stroke-width="0.6" stroke-opacity="0.85"/>
<ellipse cx="573.5" cy="282.8" rx="2.6" ry="2.5" fill="url(#gc)" fill-opacity="0.8" stroke="#118494" stroke-width="0.6" stroke-opacity="0.85"/>
<ellipse cx="612.6" cy="281.2" rx="4.68" ry="3.33" fill="url(#gc)" fill-opacity="0.8" stroke="#118494" stroke-width="0.6" stroke-opacity="0.85"/>
<ellipse cx="627.6" cy="282" rx="3.33" ry="3.33" fill="url(#gc)" fill-opacity="0.8" stroke="#118494" stroke-width="0.6" stroke-opacity="0.85"/>
<ellipse cx="614.3" cy="312.3" rx="11.34" ry="8.84" fill="url(#gc)" fill-opacity="0.8" stroke="#118494" stroke-width="0.6" stroke-opacity="0.85"/>
<ellipse cx="608" cy="298.5" rx="10.92" ry="9.57" fill="url(#gy)" fill-opacity="0.92" stroke="#a6b236" stroke-width="0.6" stroke-opacity="0.85"/>
<ellipse cx="574.2" cy="311.5" rx="3.33" ry="2.91" fill="url(#gc)" fill-opacity="0.8" stroke="#118494" stroke-width="0.6" stroke-opacity="0.85"/>
<ellipse cx="595.2" cy="310.1" rx="4.16" ry="3.54" fill="url(#gc)" fill-opacity="0.8" stroke="#118494" stroke-width="0.6" stroke-opacity="0.85"/>
<ellipse cx="628.5" cy="312.3" rx="2.6" ry="2.08" fill="url(#gc)" fill-opacity="0.8" stroke="#118494" stroke-width="0.6" stroke-opacity="0.85"/>
<ellipse cx="649.8" cy="310.6" rx="3.74" ry="3.02" fill="url(#gc)" fill-opacity="0.8" stroke="#118494" stroke-width="0.6" stroke-opacity="0.85"/>
<ellipse cx="574.3" cy="326" rx="11.75" ry="7.07" fill="url(#gy)" fill-opacity="0.92" stroke="#a6b236" stroke-width="0.6" stroke-opacity="0.85"/>
<ellipse cx="592" cy="326.6" rx="6.66" ry="3.54" fill="url(#gc)" fill-opacity="0.8" stroke="#118494" stroke-width="0.6" stroke-opacity="0.85"/>
<ellipse cx="628.5" cy="326" rx="12.69" ry="7.8" fill="url(#gy)" fill-opacity="0.92" stroke="#a6b236" stroke-width="0.6" stroke-opacity="0.85"/>
<ellipse cx="607.5" cy="331" rx="6.03" ry="5.41" fill="url(#gy)" fill-opacity="0.92" stroke="#a6b236" stroke-width="0.6" stroke-opacity="0.85"/>
<ellipse cx="578.3" cy="342.3" rx="12.48" ry="9.05" fill="url(#gc)" fill-opacity="0.8" stroke="#118494" stroke-width="0.6" stroke-opacity="0.85"/>
<ellipse cx="576.9" cy="372" rx="10.92" ry="8.01" fill="url(#gc)" fill-opacity="0.8" stroke="#118494" stroke-width="0.6" stroke-opacity="0.85"/>
<ellipse cx="576.3" cy="357.2" rx="13.52" ry="8.53" fill="url(#gy)" fill-opacity="0.92" stroke="#a6b236" stroke-width="0.6" stroke-opacity="0.85"/>
<ellipse cx="631.8" cy="342.3" rx="10.92" ry="8.01" fill="url(#gc)" fill-opacity="0.8" stroke="#118494" stroke-width="0.6" stroke-opacity="0.85"/>
<ellipse cx="630" cy="371.5" rx="13.0" ry="9.36" fill="url(#gc)" fill-opacity="0.8" stroke="#118494" stroke-width="0.6" stroke-opacity="0.85"/>
<ellipse cx="629" cy="356.2" rx="11.96" ry="7.49" fill="url(#gy)" fill-opacity="0.92" stroke="#a6b236" stroke-width="0.6" stroke-opacity="0.85"/>
<ellipse cx="594.1" cy="339.4" rx="3.02" ry="3.02" fill="url(#gc)" fill-opacity="0.8" stroke="#118494" stroke-width="0.6" stroke-opacity="0.85"/>
<ellipse cx="594.1" cy="370.1" rx="3.02" ry="3.02" fill="url(#gc)" fill-opacity="0.8" stroke="#118494" stroke-width="0.6" stroke-opacity="0.85"/>
<ellipse cx="591.7" cy="361" rx="4.47" ry="4.47" fill="url(#gy)" fill-opacity="0.92" stroke="#a6b236" stroke-width="0.6" stroke-opacity="0.85"/>
<ellipse cx="609" cy="369.2" rx="4.47" ry="4.06" fill="url(#gc)" fill-opacity="0.8" stroke="#118494" stroke-width="0.6" stroke-opacity="0.85"/>
<ellipse cx="648.6" cy="339.9" rx="4.58" ry="3.54" fill="url(#gc)" fill-opacity="0.8" stroke="#118494" stroke-width="0.6" stroke-opacity="0.85"/>
<ellipse cx="648.6" cy="370.6" rx="2.5" ry="2.5" fill="url(#gc)" fill-opacity="0.8" stroke="#118494" stroke-width="0.6" stroke-opacity="0.85"/>
<ellipse cx="612" cy="383.3" rx="10.4" ry="5.41" fill="url(#gy)" fill-opacity="0.92" stroke="#a6b236" stroke-width="0.6" stroke-opacity="0.85"/>
<ellipse cx="574.6" cy="240.2" rx="3.95" ry="3.54" fill="url(#gy)" fill-opacity="0.92" stroke="#a6b236" stroke-width="0.6" stroke-opacity="0.85"/>
<ellipse cx="592.8" cy="245.4" rx="3.95" ry="3.54" fill="url(#gy)" fill-opacity="0.92" stroke="#a6b236" stroke-width="0.6" stroke-opacity="0.85"/>
<ellipse cx="575" cy="299.8" rx="3.95" ry="3.54" fill="url(#gy)" fill-opacity="0.92" stroke="#a6b236" stroke-width="0.6" stroke-opacity="0.85"/>
<ellipse cx="592.4" cy="299.3" rx="3.95" ry="3.54" fill="url(#gy)" fill-opacity="0.92" stroke="#a6b236" stroke-width="0.6" stroke-opacity="0.85"/>
<ellipse cx="647" cy="299.3" rx="3.95" ry="3.54" fill="url(#gy)" fill-opacity="0.92" stroke="#a6b236" stroke-width="0.6" stroke-opacity="0.85"/>
<ellipse cx="646.8" cy="327.9" rx="3.95" ry="3.54" fill="url(#gy)" fill-opacity="0.92" stroke="#a6b236" stroke-width="0.6" stroke-opacity="0.85"/>
<ellipse cx="628.4" cy="386.8" rx="3.95" ry="3.54" fill="url(#gy)" fill-opacity="0.92" stroke="#a6b236" stroke-width="0.6" stroke-opacity="0.85"/>
<ellipse cx="646.2" cy="387.3" rx="3.95" ry="3.54" fill="url(#gy)" fill-opacity="0.92" stroke="#a6b236" stroke-width="0.6" stroke-opacity="0.85"/>
</g>
<rect x="555.7" y="211.9" width="110" height="176.2" fill="none" stroke="#b4b4b4" stroke-width="1"/>
<line x1="610.2" y1="211.9" x2="610.2" y2="388.1" stroke="#3a4046" stroke-width="0.8"/>
<line x1="647.4" y1="247" x2="666.1" y2="246.2" stroke="#cfd63a" stroke-width="1.4"/>
<line x1="575" y1="268" x2="565.55" y2="271.75" stroke="#6c9cc4" stroke-width="1.4"/>
<line x1="565.55" y1="271.75" x2="556.1" y2="275.5" stroke="#cfd63a" stroke-width="1.4"/>
<line x1="575" y1="268" x2="574.80" y2="272.55" stroke="#6c9cc4" stroke-width="1.4"/>
<line x1="574.80" y1="272.55" x2="574.6" y2="277.1" stroke="#cfd63a" stroke-width="1.4"/>
<line x1="575" y1="268" x2="574.45" y2="257.10" stroke="#6c9cc4" stroke-width="1.4"/>
<line x1="574.45" y1="257.10" x2="573.9" y2="246.2" stroke="#cfd63a" stroke-width="1.4"/>
<line x1="575" y1="268" x2="583.70" y2="272.30" stroke="#6c9cc4" stroke-width="1.4"/>
<line x1="583.70" y1="272.30" x2="592.4" y2="276.6" stroke="#cfd63a" stroke-width="1.4"/>
<line x1="610" y1="268.5" x2="610.70" y2="272.40" stroke="#6c9cc4" stroke-width="1.4"/>
<line x1="610.70" y1="272.40" x2="611.4" y2="276.3" stroke="#cfd63a" stroke-width="1.4"/>
<line x1="610" y1="268.5" x2="601.20" y2="272.55" stroke="#6c9cc4" stroke-width="1.4"/>
<line x1="601.20" y1="272.55" x2="592.4" y2="276.6" stroke="#cfd63a" stroke-width="1.4"/>
<line x1="610" y1="268.5" x2="619.65" y2="272.40" stroke="#6c9cc4" stroke-width="1.4"/>
<line x1="619.65" y1="272.40" x2="629.3" y2="276.3" stroke="#cfd63a" stroke-width="1.4"/>
<line x1="610" y1="268.5" x2="610.30" y2="257.35" stroke="#6c9cc4" stroke-width="1.4"/>
<line x1="610.30" y1="257.35" x2="610.6" y2="246.2" stroke="#cfd63a" stroke-width="1.4"/>
<line x1="629.3" y1="239" x2="628.85" y2="227.80" stroke="#6c9cc4" stroke-width="1.4"/>
<line x1="628.85" y1="227.80" x2="628.4" y2="216.6" stroke="#cfd63a" stroke-width="1.4"/>
<line x1="629.3" y1="239" x2="629.10" y2="242.60" stroke="#6c9cc4" stroke-width="1.4"/>
<line x1="629.10" y1="242.60" x2="628.9" y2="246.2" stroke="#cfd63a" stroke-width="1.4"/>
<line x1="629.3" y1="239" x2="638.35" y2="243.00" stroke="#6c9cc4" stroke-width="1.4"/>
<line x1="638.35" y1="243.00" x2="647.4" y2="247" stroke="#cfd63a" stroke-width="1.4"/>
<line x1="629.3" y1="239" x2="619.95" y2="242.60" stroke="#6c9cc4" stroke-width="1.4"/>
<line x1="619.95" y1="242.60" x2="610.6" y2="246.2" stroke="#cfd63a" stroke-width="1.4"/>
<line x1="628.4" y1="299" x2="628.85" y2="287.65" stroke="#6c9cc4" stroke-width="1.4"/>
<line x1="628.85" y1="287.65" x2="629.3" y2="276.3" stroke="#cfd63a" stroke-width="1.4"/>
<line x1="628.4" y1="299" x2="628.85" y2="302.35" stroke="#6c9cc4" stroke-width="1.4"/>
<line x1="628.85" y1="302.35" x2="629.3" y2="305.7" stroke="#cfd63a" stroke-width="1.4"/>
<line x1="628.4" y1="299" x2="638.10" y2="302.05" stroke="#6c9cc4" stroke-width="1.4"/>
<line x1="638.10" y1="302.05" x2="647.8" y2="305.1" stroke="#cfd63a" stroke-width="1.4"/>
<line x1="628.4" y1="299" x2="619.95" y2="302.20" stroke="#6c9cc4" stroke-width="1.4"/>
<line x1="619.95" y1="302.20" x2="611.5" y2="305.4" stroke="#cfd63a" stroke-width="1.4"/>
<line x1="573.7" y1="327" x2="574.15" y2="316.20" stroke="#6c9cc4" stroke-width="1.4"/>
<line x1="574.15" y1="316.20" x2="574.6" y2="305.4" stroke="#cfd63a" stroke-width="1.4"/>
<line x1="573.7" y1="327" x2="564.75" y2="330.80" stroke="#6c9cc4" stroke-width="1.4"/>
<line x1="564.75" y1="330.80" x2="555.8" y2="334.6" stroke="#cfd63a" stroke-width="1.4"/>
<line x1="573.7" y1="327" x2="583.15" y2="330.60" stroke="#6c9cc4" stroke-width="1.4"/>
<line x1="583.15" y1="330.60" x2="592.6" y2="334.2" stroke="#cfd63a" stroke-width="1.4"/>
<line x1="591.6" y1="326.8" x2="592.00" y2="315.70" stroke="#6c9cc4" stroke-width="1.4"/>
<line x1="592.00" y1="315.70" x2="592.4" y2="304.6" stroke="#cfd63a" stroke-width="1.4"/>
<line x1="591.6" y1="326.8" x2="592.10" y2="330.50" stroke="#6c9cc4" stroke-width="1.4"/>
<line x1="592.10" y1="330.50" x2="592.6" y2="334.2" stroke="#cfd63a" stroke-width="1.4"/>
<line x1="609.4" y1="357.6" x2="609.40" y2="360.00" stroke="#6c9cc4" stroke-width="1.4"/>
<line x1="609.40" y1="360.00" x2="609.4" y2="362.4" stroke="#cfd63a" stroke-width="1.4"/>
<line x1="609.4" y1="357.6" x2="600.60" y2="360.95" stroke="#6c9cc4" stroke-width="1.4"/>
<line x1="600.60" y1="360.95" x2="591.8" y2="364.3" stroke="#cfd63a" stroke-width="1.4"/>
<line x1="646.2" y1="356.1" x2="646.50" y2="360.20" stroke="#6c9cc4" stroke-width="1.4"/>
<line x1="646.50" y1="360.20" x2="646.8" y2="364.3" stroke="#cfd63a" stroke-width="1.4"/>
<line x1="646.2" y1="356.1" x2="655.80" y2="359.75" stroke="#6c9cc4" stroke-width="1.4"/>
<line x1="655.80" y1="359.75" x2="665.4" y2="363.4" stroke="#cfd63a" stroke-width="1.4"/>
<line x1="646.2" y1="356.1" x2="646.70" y2="344.85" stroke="#6c9cc4" stroke-width="1.4"/>
<line x1="646.70" y1="344.85" x2="647.2" y2="333.6" stroke="#cfd63a" stroke-width="1.4"/>
<line x1="592.2" y1="386.4" x2="582.60" y2="389.75" stroke="#6c9cc4" stroke-width="1.4"/>
<line x1="582.60" y1="389.75" x2="573" y2="393.1" stroke="#cfd63a" stroke-width="1.4"/>
<line x1="592.2" y1="386.4" x2="591.70" y2="390.00" stroke="#6c9cc4" stroke-width="1.4"/>
<line x1="591.70" y1="390.00" x2="591.2" y2="393.6" stroke="#cfd63a" stroke-width="1.4"/>
<line x1="592.2" y1="386.4" x2="592.00" y2="375.35" stroke="#6c9cc4" stroke-width="1.4"/>
<line x1="592.00" y1="375.35" x2="591.8" y2="364.3" stroke="#cfd63a" stroke-width="1.4"/>
<line x1="610.4" y1="386" x2="610.40" y2="390.20" stroke="#6c9cc4" stroke-width="1.4"/>
<line x1="610.40" y1="390.20" x2="610.4" y2="394.4" stroke="#cfd63a" stroke-width="1.4"/>
<line x1="610.4" y1="386" x2="619.40" y2="389.55" stroke="#6c9cc4" stroke-width="1.4"/>
<line x1="619.40" y1="389.55" x2="628.4" y2="393.1" stroke="#cfd63a" stroke-width="1.4"/>
<line x1="610.4" y1="386" x2="609.90" y2="374.20" stroke="#6c9cc4" stroke-width="1.4"/>
<line x1="609.90" y1="374.20" x2="609.4" y2="362.4" stroke="#cfd63a" stroke-width="1.4"/>
<line x1="647.4" y1="223" x2="647.40" y2="220.05" stroke="#6c9cc4" stroke-width="1.4"/>
<line x1="647.40" y1="220.05" x2="647.4" y2="217.1" stroke="#cfd63a" stroke-width="1.4"/>
<circle cx="575" cy="268" r="5.4" fill="url(#ga)"/>
<circle cx="610" cy="268.5" r="5.4" fill="url(#ga)"/>
<circle cx="629.3" cy="239" r="5.4" fill="url(#ga)"/>
<circle cx="573.7" cy="327" r="5.4" fill="url(#ga)"/>
<circle cx="591.6" cy="326.8" r="5.4" fill="url(#ga)"/>
<circle cx="628.4" cy="299" r="5.4" fill="url(#ga)"/>
<circle cx="609.4" cy="357.6" r="5.4" fill="url(#ga)"/>
<circle cx="646.2" cy="356.1" r="5.4" fill="url(#ga)"/>
<circle cx="592.2" cy="386.4" r="5.4" fill="url(#ga)"/>
<circle cx="610.4" cy="386" r="5.4" fill="url(#ga)"/>
<circle cx="591.7" cy="217.6" r="3.6" fill="url(#gs)"/>
<circle cx="573.9" cy="246.2" r="3.6" fill="url(#gs)"/>
<circle cx="610.6" cy="246.2" r="3.6" fill="url(#gs)"/>
<circle cx="628.4" cy="216.6" r="3.6" fill="url(#gs)"/>
<circle cx="647.4" cy="217.1" r="3.6" fill="url(#gs)"/>
<circle cx="628.9" cy="246.2" r="3.6" fill="url(#gs)"/>
<circle cx="647.4" cy="247" r="3.6" fill="url(#gs)"/>
<circle cx="666.1" cy="246.2" r="3.6" fill="url(#gs)"/>
<circle cx="556.1" cy="275.5" r="3.6" fill="url(#gs)"/>
<circle cx="574.6" cy="277.1" r="3.6" fill="url(#gs)"/>
<circle cx="592.4" cy="276.6" r="3.6" fill="url(#gs)"/>
<circle cx="611.4" cy="276.3" r="3.6" fill="url(#gs)"/>
<circle cx="629.3" cy="276.3" r="3.6" fill="url(#gs)"/>
<circle cx="647" cy="276" r="3.6" fill="url(#gs)"/>
<circle cx="574.6" cy="305.4" r="3.6" fill="url(#gs)"/>
<circle cx="592.4" cy="304.6" r="3.6" fill="url(#gs)"/>
<circle cx="629.3" cy="305.7" r="3.6" fill="url(#gs)"/>
<circle cx="647.8" cy="305.1" r="3.6" fill="url(#gs)"/>
<circle cx="611.5" cy="305.4" r="3.6" fill="url(#gs)"/>
<circle cx="555.8" cy="334.6" r="3.6" fill="url(#gs)"/>
<circle cx="592.6" cy="334.2" r="3.6" fill="url(#gs)"/>
<circle cx="574" cy="365.3" r="3.6" fill="url(#gs)"/>
<circle cx="591.8" cy="364.3" r="3.6" fill="url(#gs)"/>
<circle cx="609.4" cy="362.4" r="3.6" fill="url(#gs)"/>
<circle cx="628.4" cy="335" r="3.6" fill="url(#gs)"/>
<circle cx="647.2" cy="333.6" r="3.6" fill="url(#gs)"/>
<circle cx="646.8" cy="364.3" r="3.6" fill="url(#gs)"/>
<circle cx="665.4" cy="363.4" r="3.6" fill="url(#gs)"/>
<circle cx="573" cy="393.1" r="3.6" fill="url(#gs)"/>
<circle cx="591.2" cy="393.6" r="3.6" fill="url(#gs)"/>
<circle cx="610.4" cy="394.4" r="3.6" fill="url(#gs)"/>
<circle cx="628.4" cy="393.1" r="3.6" fill="url(#gs)"/>
<text x="466.00" y="273.20" font-size="10.6" fill="#1e1e1e" text-anchor="start" stroke="#1e1e1e" stroke-width="0.18" >Al2</text>
<line x1="462.6" y1="276.2" x2="470.4" y2="274.2" stroke="#1e1e1e" stroke-width="0.9"/>
<text x="618.00" y="264.00" font-size="10.6" fill="#1e1e1e" text-anchor="start" stroke="#1e1e1e" stroke-width="0.18" >Al2</text>
<line x1="616.3" y1="267.4" x2="624.6" y2="265.2" stroke="#1e1e1e" stroke-width="0.9"/>
<line x1="365.6" y1="386.4" x2="365.6" y2="371" stroke="#2456b0" stroke-width="1.6"/>
<path d="M365.6,365 L368.4,372 L362.8,372 Z" fill="#2456b0"/>
<line x1="365.6" y1="386.4" x2="355" y2="386.4" stroke="#d42a36" stroke-width="1.6"/>
<path d="M347,386.4 L354.2,383.6 L354.2,389.2 Z" fill="#d42a36"/>
<line x1="365.6" y1="386.4" x2="377" y2="386.4" stroke="#34a048" stroke-width="1.6"/>
<path d="M384.3,386.4 L377,383.6 L377,389.2 Z" fill="#34a048"/>
<circle cx="365.6" cy="386.4" r="2" fill="#e8e8e8" stroke="#9a9a9a" stroke-width="0.7"/>
<text x="363.40" y="361.80" font-size="10.8" fill="#303030" text-anchor="start" stroke="#303030" stroke-width="0.18" font-style="italic">c</text>
<text x="338.20" y="389.40" font-size="10.8" fill="#303030" text-anchor="start" stroke="#303030" stroke-width="0.18" font-style="italic">a</text>
<text x="386.80" y="389.40" font-size="10.8" fill="#303030" text-anchor="start" stroke="#303030" stroke-width="0.18" font-style="italic">b</text>
<text x="447.00" y="204.30" font-size="10.8" fill="#2a201e" text-anchor="start" stroke="#2a201e" stroke-width="0.18" >+LP</text>
<text x="599.80" y="204.10" font-size="10.8" fill="#2a201e" text-anchor="start" stroke="#2a201e" stroke-width="0.18" >+HP</text>
</svg>
</body></html>
